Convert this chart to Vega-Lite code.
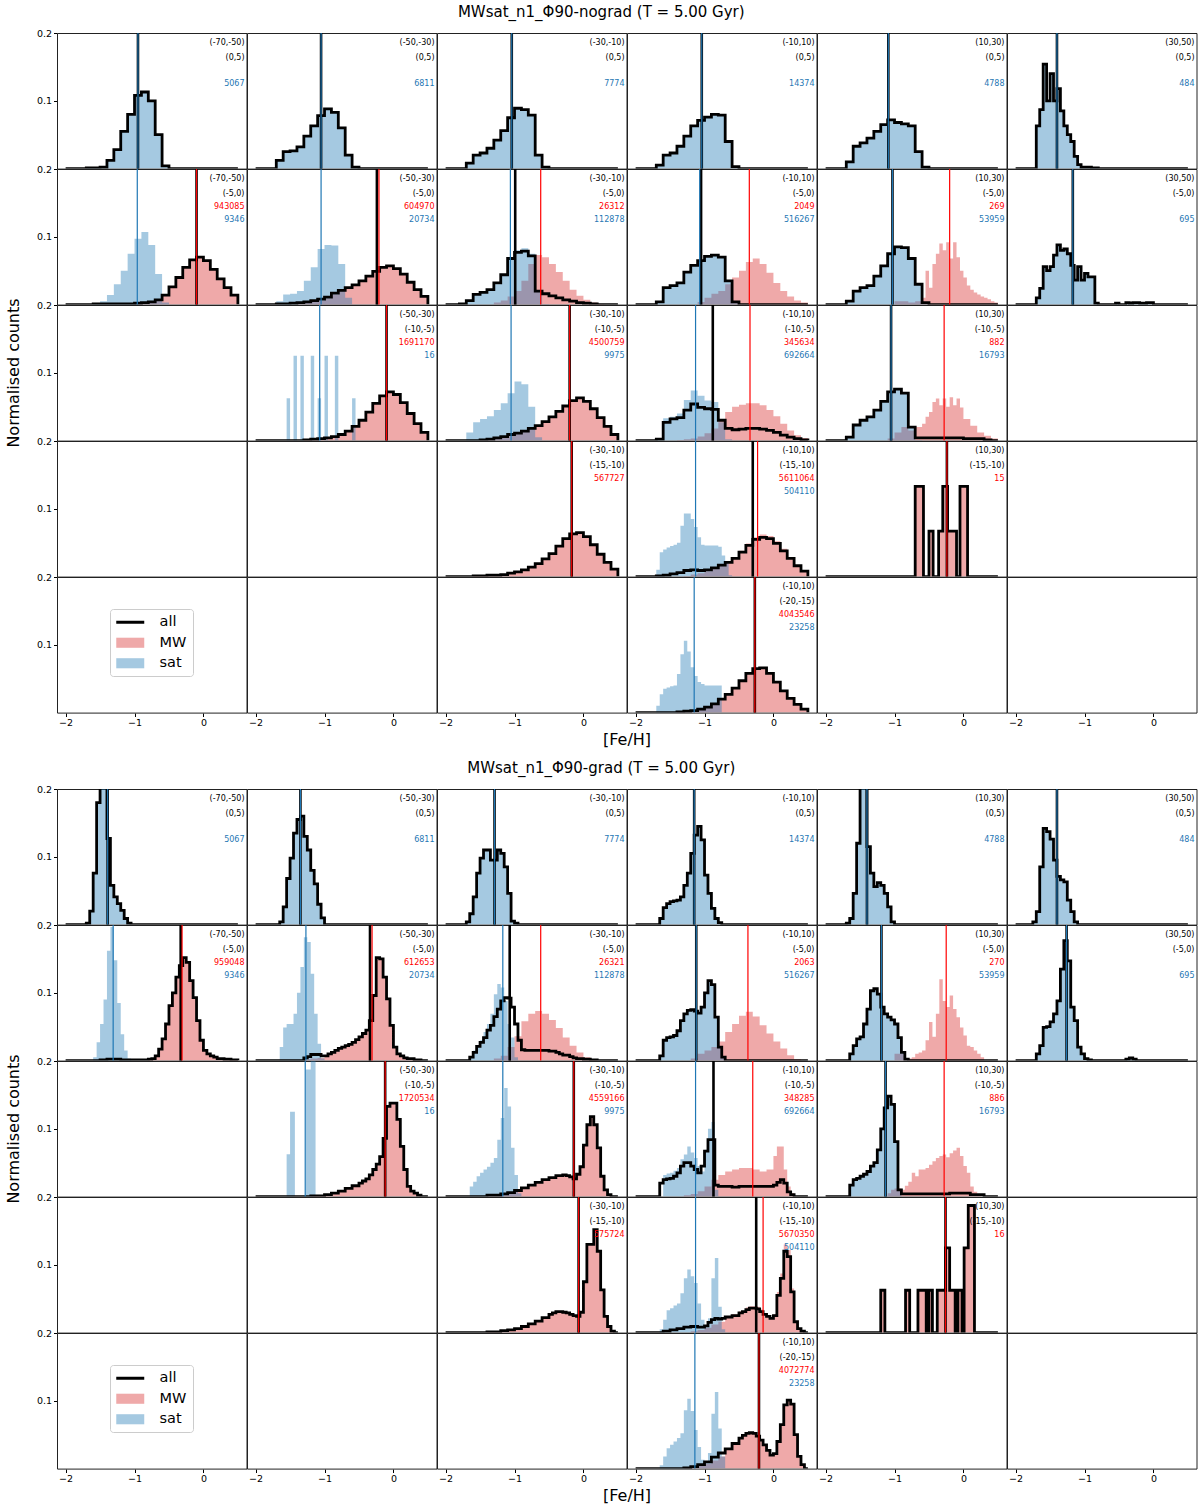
{
"$schema":"https://vega.github.io/schema/vega-lite/v6.json",
"background":"white",
"padding":{"left":5,"right":5,"top":5,"bottom":2},
"config":{"font":"DejaVu Sans","view":{"stroke":"#222222","strokeWidth":1},
"axis":{"grid":false,"domain":false,"tickColor":"#000000","labelColor":"#000000","labelFont":"DejaVu Sans","tickSize":3.5,"labelFontSize":9.5,"labelPadding":2,"minExtent":0},
"axisX":{"labelPadding":1}},
"datasets":{
"d1":[
{"r":1,"c":1,"x":-2,"a":0},{"r":1,"c":1,"x":-1.7,"a":0.001,"s":0.001},{"r":1,"c":1,"x":-1.6,"a":0.001,"s":0.001},{"r":1,"c":1,"x":-1.5,"a":0.002,"s":0.002},{"r":1,"c":1,"x":-1.4,"a":0.012,"s":0.012},{"r":1,"c":1,"x":-1.3,"a":0.028,"s":0.028},{"r":1,"c":1,"x":-1.2,"a":0.055,"s":0.055},{"r":1,"c":1,"x":-1.1,"a":0.08,"s":0.08},{"r":1,"c":1,"x":-1,"a":0.108,"s":0.108},{"r":1,"c":1,"x":-0.9,"a":0.113,"s":0.113},{"r":1,"c":1,"x":-0.8,"a":0.1,"s":0.1},{"r":1,"c":1,"x":-0.7,"a":0.05,"s":0.05},{"r":1,"c":1,"x":-0.6,"a":0.004,"s":0.004},{"r":1,"c":1,"x":-0.5,"a":0,"s":0},{"r":1,"c":1,"x":0.5,"a":0},
{"r":1,"c":1,"t1":"(-70,-50)","t2":"(0,5)","ns":"5067","ma":-0.95,"ms":-0.95},
{"r":1,"c":2,"x":-2,"a":0},{"r":1,"c":2,"x":-1.7,"a":0.012,"s":0.012},{"r":1,"c":2,"x":-1.6,"a":0.025,"s":0.025},{"r":1,"c":2,"x":-1.5,"a":0.026,"s":0.026},{"r":1,"c":2,"x":-1.4,"a":0.032,"s":0.032},{"r":1,"c":2,"x":-1.3,"a":0.048,"s":0.048},{"r":1,"c":2,"x":-1.2,"a":0.063,"s":0.063},{"r":1,"c":2,"x":-1.1,"a":0.078,"s":0.078},{"r":1,"c":2,"x":-1,"a":0.088,"s":0.088},{"r":1,"c":2,"x":-0.9,"a":0.083,"s":0.083},{"r":1,"c":2,"x":-0.8,"a":0.06,"s":0.06},{"r":1,"c":2,"x":-0.7,"a":0.02,"s":0.02},{"r":1,"c":2,"x":-0.6,"a":0.002,"s":0.002},{"r":1,"c":2,"x":-0.5,"a":0,"s":0},{"r":1,"c":2,"x":0.5,"a":0},
{"r":1,"c":2,"t1":"(-50,-30)","t2":"(0,5)","ns":"6811","ma":-1.05,"ms":-1.05},
{"r":1,"c":3,"x":-2,"a":0},{"r":1,"c":3,"x":-1.7,"a":0.008,"s":0.008},{"r":1,"c":3,"x":-1.6,"a":0.02,"s":0.02},{"r":1,"c":3,"x":-1.5,"a":0.023,"s":0.023},{"r":1,"c":3,"x":-1.4,"a":0.03,"s":0.03},{"r":1,"c":3,"x":-1.3,"a":0.042,"s":0.042},{"r":1,"c":3,"x":-1.2,"a":0.056,"s":0.056},{"r":1,"c":3,"x":-1.1,"a":0.075,"s":0.075},{"r":1,"c":3,"x":-1,"a":0.089,"s":0.089},{"r":1,"c":3,"x":-0.9,"a":0.087,"s":0.087},{"r":1,"c":3,"x":-0.8,"a":0.079,"s":0.079},{"r":1,"c":3,"x":-0.7,"a":0.02,"s":0.02},{"r":1,"c":3,"x":-0.6,"a":0.002,"s":0.002},{"r":1,"c":3,"x":-0.5,"a":0,"s":0},{"r":1,"c":3,"x":0.5,"a":0},
{"r":1,"c":3,"t1":"(-30,-10)","t2":"(0,5)","ns":"7774","ma":-1.04,"ms":-1.04},
{"r":1,"c":4,"x":-2,"a":0},{"r":1,"c":4,"x":-1.7,"a":0.005,"s":0.005},{"r":1,"c":4,"x":-1.6,"a":0.02,"s":0.02},{"r":1,"c":4,"x":-1.5,"a":0.023,"s":0.023},{"r":1,"c":4,"x":-1.4,"a":0.033,"s":0.033},{"r":1,"c":4,"x":-1.3,"a":0.048,"s":0.048},{"r":1,"c":4,"x":-1.2,"a":0.063,"s":0.063},{"r":1,"c":4,"x":-1.1,"a":0.071,"s":0.071},{"r":1,"c":4,"x":-1,"a":0.076,"s":0.076},{"r":1,"c":4,"x":-0.9,"a":0.08,"s":0.08},{"r":1,"c":4,"x":-0.8,"a":0.079,"s":0.079},{"r":1,"c":4,"x":-0.7,"a":0.04,"s":0.04},{"r":1,"c":4,"x":-0.6,"a":0.003,"s":0.003},{"r":1,"c":4,"x":-0.5,"a":0,"s":0},{"r":1,"c":4,"x":0.5,"a":0},
{"r":1,"c":4,"t1":"(-10,10)","t2":"(0,5)","ns":"14374","ma":-1.04,"ms":-1.04},
{"r":1,"c":5,"x":-2,"a":0},{"r":1,"c":5,"x":-1.7,"a":0.01,"s":0.01},{"r":1,"c":5,"x":-1.6,"a":0.033,"s":0.033},{"r":1,"c":5,"x":-1.5,"a":0.038,"s":0.038},{"r":1,"c":5,"x":-1.4,"a":0.045,"s":0.045},{"r":1,"c":5,"x":-1.3,"a":0.055,"s":0.055},{"r":1,"c":5,"x":-1.2,"a":0.065,"s":0.065},{"r":1,"c":5,"x":-1.1,"a":0.072,"s":0.072},{"r":1,"c":5,"x":-1,"a":0.068,"s":0.068},{"r":1,"c":5,"x":-0.9,"a":0.066,"s":0.066},{"r":1,"c":5,"x":-0.8,"a":0.063,"s":0.063},{"r":1,"c":5,"x":-0.7,"a":0.025,"s":0.025},{"r":1,"c":5,"x":-0.6,"a":0.002,"s":0.002},{"r":1,"c":5,"x":-0.5,"a":0,"s":0},{"r":1,"c":5,"x":0.5,"a":0},
{"r":1,"c":5,"t1":"(10,30)","t2":"(0,5)","ns":"4788","ma":-1.09,"ms":-1.09},
{"r":1,"c":6,"x":-2,"a":0},{"r":1,"c":6,"x":-1.7,"a":0.063,"s":0.063},{"r":1,"c":6,"x":-1.65,"a":0.087,"s":0.087},{"r":1,"c":6,"x":-1.6,"a":0.154,"s":0.154},{"r":1,"c":6,"x":-1.55,"a":0.1,"s":0.1},{"r":1,"c":6,"x":-1.5,"a":0.14,"s":0.14},{"r":1,"c":6,"x":-1.45,"a":0.1,"s":0.1},{"r":1,"c":6,"x":-1.4,"a":0.118,"s":0.118},{"r":1,"c":6,"x":-1.35,"a":0.085,"s":0.085},{"r":1,"c":6,"x":-1.3,"a":0.063,"s":0.063},{"r":1,"c":6,"x":-1.25,"a":0.05,"s":0.05},{"r":1,"c":6,"x":-1.2,"a":0.04,"s":0.04},{"r":1,"c":6,"x":-1.15,"a":0.018,"s":0.018},{"r":1,"c":6,"x":-1.1,"a":0.006,"s":0.006},{"r":1,"c":6,"x":-1.05,"a":0.002,"s":0.002},{"r":1,"c":6,"x":-0.9,"a":0.001,"s":0.001},{"r":1,"c":6,"x":-0.8,"a":0,"s":0},{"r":1,"c":6,"x":0.5,"a":0},
{"r":1,"c":6,"t1":"(30,50)","t2":"(0,5)","ns":"484","ma":-1.4,"ms":-1.4},
{"r":2,"c":1,"x":-2,"a":0},{"r":2,"c":1,"x":-1.6,"a":0.001,"s":0.002},{"r":2,"c":1,"x":-1.5,"s":0.005},{"r":2,"c":1,"x":-1.4,"s":0.014},{"r":2,"c":1,"x":-1.3,"s":0.03},{"r":2,"c":1,"x":-1.2,"s":0.05},{"r":2,"c":1,"x":-1.1,"s":0.075},{"r":2,"c":1,"x":-1,"a":0.002,"m":0.002,"s":0.097},{"r":2,"c":1,"x":-0.9,"a":0.003,"m":0.003,"s":0.107},{"r":2,"c":1,"x":-0.8,"a":0.004,"m":0.004,"s":0.088},{"r":2,"c":1,"x":-0.7,"a":0.007,"m":0.007,"s":0.045},{"r":2,"c":1,"x":-0.6,"a":0.014,"m":0.014,"s":0.003},{"r":2,"c":1,"x":-0.5,"a":0.026,"m":0.026,"s":0},{"r":2,"c":1,"x":-0.4,"a":0.04,"m":0.04},{"r":2,"c":1,"x":-0.3,"a":0.055,"m":0.055},{"r":2,"c":1,"x":-0.2,"a":0.066,"m":0.066},{"r":2,"c":1,"x":-0.1,"a":0.07,"m":0.07},{"r":2,"c":1,"x":0,"a":0.065,"m":0.065},{"r":2,"c":1,"x":0.1,"a":0.052,"m":0.052},{"r":2,"c":1,"x":0.2,"a":0.038,"m":0.038},{"r":2,"c":1,"x":0.3,"a":0.025,"m":0.025},{"r":2,"c":1,"x":0.4,"a":0.014,"m":0.014},{"r":2,"c":1,"x":0.5,"a":0,"m":0},
{"r":2,"c":1,"t1":"(-70,-50)","t2":"(-5,0)","nm":"943085","ns":"9346","ma":-0.1,"mm":-0.1,"ms":-0.96},
{"r":2,"c":2,"x":-2,"a":0},{"r":2,"c":2,"x":-1.7,"a":0.001,"s":0.005},{"r":2,"c":2,"x":-1.6,"a":0.001,"s":0.015},{"r":2,"c":2,"x":-1.5,"a":0.002,"s":0.016},{"r":2,"c":2,"x":-1.4,"a":0.003,"m":0.002,"s":0.02},{"r":2,"c":2,"x":-1.3,"a":0.004,"m":0.003,"s":0.035},{"r":2,"c":2,"x":-1.2,"a":0.006,"m":0.004,"s":0.055},{"r":2,"c":2,"x":-1.1,"a":0.008,"m":0.006,"s":0.082},{"r":2,"c":2,"x":-1,"a":0.011,"m":0.009,"s":0.088},{"r":2,"c":2,"x":-0.9,"a":0.017,"m":0.015,"s":0.087},{"r":2,"c":2,"x":-0.8,"a":0.021,"m":0.02,"s":0.06},{"r":2,"c":2,"x":-0.7,"a":0.025,"m":0.025,"s":0.01},{"r":2,"c":2,"x":-0.6,"a":0.029,"m":0.029,"s":0},{"r":2,"c":2,"x":-0.5,"a":0.035,"m":0.035},{"r":2,"c":2,"x":-0.4,"a":0.042,"m":0.042},{"r":2,"c":2,"x":-0.3,"a":0.049,"m":0.049},{"r":2,"c":2,"x":-0.2,"a":0.055,"m":0.055},{"r":2,"c":2,"x":-0.1,"a":0.057,"m":0.057},{"r":2,"c":2,"x":0,"a":0.053,"m":0.053},{"r":2,"c":2,"x":0.1,"a":0.045,"m":0.045},{"r":2,"c":2,"x":0.2,"a":0.033,"m":0.033},{"r":2,"c":2,"x":0.3,"a":0.022,"m":0.022},{"r":2,"c":2,"x":0.4,"a":0.012,"m":0.012},{"r":2,"c":2,"x":0.5,"a":0,"m":0},
{"r":2,"c":2,"t1":"(-50,-30)","t2":"(-5,0)","nm":"604970","ns":"20734","ma":-0.24,"mm":-0.21,"ms":-1.05},
{"r":2,"c":3,"x":-2,"a":0},{"r":2,"c":3,"x":-1.8,"a":0.001},{"r":2,"c":3,"x":-1.7,"a":0.006,"s":0.007},{"r":2,"c":3,"x":-1.6,"a":0.015,"s":0.016},{"r":2,"c":3,"x":-1.5,"a":0.018,"s":0.019},{"r":2,"c":3,"x":-1.4,"a":0.022,"s":0.02},{"r":2,"c":3,"x":-1.3,"a":0.032,"m":0.003,"s":0.03},{"r":2,"c":3,"x":-1.2,"a":0.044,"m":0.006,"s":0.043},{"r":2,"c":3,"x":-1.1,"a":0.068,"m":0.012,"s":0.068},{"r":2,"c":3,"x":-1,"a":0.077,"m":0.02,"s":0.08},{"r":2,"c":3,"x":-0.9,"a":0.079,"m":0.035,"s":0.083},{"r":2,"c":3,"x":-0.8,"a":0.072,"m":0.06,"s":0.075},{"r":2,"c":3,"x":-0.7,"a":0.02,"m":0.073,"s":0.02},{"r":2,"c":3,"x":-0.6,"a":0.016,"m":0.07,"s":0.001},{"r":2,"c":3,"x":-0.5,"a":0.013,"m":0.06,"s":0},{"r":2,"c":3,"x":-0.4,"a":0.01,"m":0.048},{"r":2,"c":3,"x":-0.3,"a":0.007,"m":0.035},{"r":2,"c":3,"x":-0.2,"a":0.005,"m":0.022},{"r":2,"c":3,"x":-0.1,"a":0.003,"m":0.013},{"r":2,"c":3,"x":0,"a":0.002,"m":0.007},{"r":2,"c":3,"x":0.1,"a":0.001,"m":0.003},{"r":2,"c":3,"x":0.2,"a":0,"m":0.001},{"r":2,"c":3,"x":0.3,"m":0},{"r":2,"c":3,"x":0.5,"a":0},
{"r":2,"c":3,"t1":"(-30,-10)","t2":"(-5,0)","nm":"26312","ns":"112878","ma":-0.99,"mm":-0.62,"ms":-1.06},
{"r":2,"c":4,"x":-2,"a":0},{"r":2,"c":4,"x":-1.7,"a":0.004,"s":0.004},{"r":2,"c":4,"x":-1.6,"a":0.025,"s":0.025},{"r":2,"c":4,"x":-1.5,"a":0.028,"s":0.028},{"r":2,"c":4,"x":-1.4,"a":0.032,"s":0.032},{"r":2,"c":4,"x":-1.3,"a":0.048,"s":0.048},{"r":2,"c":4,"x":-1.2,"a":0.058,"s":0.058},{"r":2,"c":4,"x":-1.1,"a":0.065,"s":0.065,"m":0.004},{"r":2,"c":4,"x":-1,"a":0.071,"s":0.071,"m":0.01},{"r":2,"c":4,"x":-0.9,"a":0.073,"s":0.073,"m":0.016},{"r":2,"c":4,"x":-0.8,"a":0.07,"s":0.07,"m":0.02},{"r":2,"c":4,"x":-0.7,"a":0.035,"s":0.035,"m":0.03},{"r":2,"c":4,"x":-0.6,"a":0.004,"s":0.004,"m":0.04},{"r":2,"c":4,"x":-0.5,"a":0,"s":0,"m":0.05},{"r":2,"c":4,"x":-0.4,"m":0.063},{"r":2,"c":4,"x":-0.3,"m":0.068},{"r":2,"c":4,"x":-0.2,"m":0.06},{"r":2,"c":4,"x":-0.1,"m":0.047},{"r":2,"c":4,"x":0,"m":0.032},{"r":2,"c":4,"x":0.1,"m":0.02},{"r":2,"c":4,"x":0.2,"m":0.012},{"r":2,"c":4,"x":0.3,"m":0.006},{"r":2,"c":4,"x":0.4,"m":0.003},{"r":2,"c":4,"x":0.5,"a":0,"m":0},
{"r":2,"c":4,"t1":"(-10,10)","t2":"(-5,0)","nm":"2049","ns":"516267","ma":-1.05,"mm":-0.35,"ms":-1.07},
{"r":2,"c":5,"x":-2,"a":0},{"r":2,"c":5,"x":-1.7,"a":0.005,"s":0.005},{"r":2,"c":5,"x":-1.6,"a":0.02,"s":0.02},{"r":2,"c":5,"x":-1.5,"a":0.025,"s":0.025},{"r":2,"c":5,"x":-1.4,"a":0.028,"s":0.028},{"r":2,"c":5,"x":-1.3,"a":0.042,"s":0.042},{"r":2,"c":5,"x":-1.2,"a":0.057,"s":0.057},{"r":2,"c":5,"x":-1.1,"a":0.075,"s":0.075},{"r":2,"c":5,"x":-1,"a":0.085,"s":0.085,"m":0.005},{"r":2,"c":5,"x":-0.9,"a":0.084,"s":0.084},{"r":2,"c":5,"x":-0.8,"a":0.068,"s":0.068,"m":0.003},{"r":2,"c":5,"x":-0.7,"a":0.03,"s":0.03,"m":0.005},{"r":2,"c":5,"x":-0.6,"a":0.003,"s":0.003,"m":0.01},{"r":2,"c":5,"x":-0.55,"m":0.05},{"r":2,"c":5,"x":-0.5,"a":0,"s":0,"m":0.025},{"r":2,"c":5,"x":-0.45,"m":0.06},{"r":2,"c":5,"x":-0.4,"m":0.075},{"r":2,"c":5,"x":-0.35,"m":0.09},{"r":2,"c":5,"x":-0.3,"m":0.08},{"r":2,"c":5,"x":-0.25,"m":0.092},{"r":2,"c":5,"x":-0.2,"m":0.068},{"r":2,"c":5,"x":-0.15,"m":0.092},{"r":2,"c":5,"x":-0.1,"m":0.07},{"r":2,"c":5,"x":-0.05,"m":0.05},{"r":2,"c":5,"x":0,"m":0.04},{"r":2,"c":5,"x":0.05,"m":0.028},{"r":2,"c":5,"x":0.1,"m":0.022},{"r":2,"c":5,"x":0.15,"m":0.018},{"r":2,"c":5,"x":0.2,"m":0.015},{"r":2,"c":5,"x":0.25,"m":0.012},{"r":2,"c":5,"x":0.3,"m":0.01},{"r":2,"c":5,"x":0.35,"m":0.008},{"r":2,"c":5,"x":0.4,"m":0.005},{"r":2,"c":5,"x":0.45,"m":0.003},{"r":2,"c":5,"x":0.5,"a":0,"m":0},
{"r":2,"c":5,"t1":"(10,30)","t2":"(-5,0)","nm":"269","ns":"53959","ma":-1.03,"mm":-0.2,"ms":-1.03},
{"r":2,"c":6,"x":-2,"a":0},{"r":2,"c":6,"x":-1.7,"a":0.01,"s":0.01},{"r":2,"c":6,"x":-1.65,"a":0.024,"s":0.024},{"r":2,"c":6,"x":-1.6,"a":0.056,"s":0.056},{"r":2,"c":6,"x":-1.55,"a":0.05,"s":0.05},{"r":2,"c":6,"x":-1.5,"a":0.056,"s":0.056},{"r":2,"c":6,"x":-1.45,"a":0.073,"s":0.073},{"r":2,"c":6,"x":-1.4,"a":0.088,"s":0.088},{"r":2,"c":6,"x":-1.35,"a":0.08,"s":0.08},{"r":2,"c":6,"x":-1.3,"a":0.082,"s":0.082},{"r":2,"c":6,"x":-1.25,"a":0.075,"s":0.075},{"r":2,"c":6,"x":-1.2,"a":0.058,"s":0.058},{"r":2,"c":6,"x":-1.15,"a":0.036,"s":0.036},{"r":2,"c":6,"x":-1.1,"a":0.056,"s":0.056},{"r":2,"c":6,"x":-1.05,"a":0.036,"s":0.036},{"r":2,"c":6,"x":-1,"a":0.046,"s":0.046},{"r":2,"c":6,"x":-0.95,"a":0.041,"s":0.041},{"r":2,"c":6,"x":-0.9,"a":0.041,"s":0.041},{"r":2,"c":6,"x":-0.85,"a":0.002,"s":0.002},{"r":2,"c":6,"x":-0.8,"a":0,"s":0},{"r":2,"c":6,"x":-0.55,"a":0.002,"s":0.002},{"r":2,"c":6,"x":-0.5,"a":0,"s":0},{"r":2,"c":6,"x":-0.4,"a":0.003,"s":0.003},{"r":2,"c":6,"x":-0.35,"a":0.002,"s":0.002},{"r":2,"c":6,"x":-0.3,"a":0.003,"s":0.003},{"r":2,"c":6,"x":-0.2,"a":0.002,"s":0.002},{"r":2,"c":6,"x":-0.1,"a":0.003,"s":0.003},{"r":2,"c":6,"x":0,"a":0,"s":0},{"r":2,"c":6,"x":0.5,"a":0},
{"r":2,"c":6,"t1":"(30,50)","t2":"(-5,0)","ns":"695","ma":-1.17,"ms":-1.17},
{"r":3,"c":2,"x":-2,"a":0},{"r":3,"c":2,"x":-1.55,"s":0.0625},{"r":3,"c":2,"x":-1.5,"s":0},{"r":3,"c":2,"x":-1.45,"s":0.125},{"r":3,"c":2,"x":-1.4,"s":0},{"r":3,"c":2,"x":-1.35,"s":0.125},{"r":3,"c":2,"x":-1.3,"a":0.001,"m":0.001,"s":0},{"r":3,"c":2,"x":-1.2,"a":0.002,"m":0.002,"s":0.125},{"r":3,"c":2,"x":-1.15,"s":0},{"r":3,"c":2,"x":-1.1,"a":0.003,"m":0.003,"s":0.0625},{"r":3,"c":2,"x":-1.05,"s":0},{"r":3,"c":2,"x":-1,"a":0.004,"m":0.004,"s":0.125},{"r":3,"c":2,"x":-0.95,"s":0},{"r":3,"c":2,"x":-0.9,"a":0.006,"m":0.006},{"r":3,"c":2,"x":-0.85,"s":0.125},{"r":3,"c":2,"x":-0.8,"a":0.009,"m":0.009,"s":0},{"r":3,"c":2,"x":-0.7,"a":0.014,"m":0.014},{"r":3,"c":2,"x":-0.6,"a":0.021,"m":0.021,"s":0.0625},{"r":3,"c":2,"x":-0.55,"s":0},{"r":3,"c":2,"x":-0.5,"a":0.03,"m":0.03},{"r":3,"c":2,"x":-0.4,"a":0.042,"m":0.042},{"r":3,"c":2,"x":-0.3,"a":0.055,"m":0.055},{"r":3,"c":2,"x":-0.2,"a":0.066,"m":0.066},{"r":3,"c":2,"x":-0.1,"a":0.072,"m":0.072},{"r":3,"c":2,"x":0,"a":0.068,"m":0.068},{"r":3,"c":2,"x":0.1,"a":0.056,"m":0.056},{"r":3,"c":2,"x":0.2,"a":0.04,"m":0.04},{"r":3,"c":2,"x":0.3,"a":0.025,"m":0.025},{"r":3,"c":2,"x":0.4,"a":0.012,"m":0.012},{"r":3,"c":2,"x":0.5,"a":0,"m":0},
{"r":3,"c":2,"t1":"(-50,-30)","t2":"(-10,-5)","nm":"1691170","ns":"16","ma":-0.1,"mm":-0.1,"ms":-1.07},
{"r":3,"c":3,"x":-2,"a":0},{"r":3,"c":3,"x":-1.7,"s":0.012},{"r":3,"c":3,"x":-1.6,"s":0.027},{"r":3,"c":3,"x":-1.5,"a":0.001,"m":0.001,"s":0.032},{"r":3,"c":3,"x":-1.4,"a":0.002,"m":0.002,"s":0.036},{"r":3,"c":3,"x":-1.3,"a":0.004,"m":0.004,"s":0.045},{"r":3,"c":3,"x":-1.2,"a":0.006,"m":0.006,"s":0.055},{"r":3,"c":3,"x":-1.1,"a":0.009,"m":0.009,"s":0.07},{"r":3,"c":3,"x":-1,"a":0.011,"m":0.011,"s":0.087},{"r":3,"c":3,"x":-0.9,"a":0.014,"m":0.014,"s":0.083},{"r":3,"c":3,"x":-0.8,"a":0.018,"m":0.018,"s":0.05},{"r":3,"c":3,"x":-0.7,"a":0.022,"m":0.022,"s":0.005},{"r":3,"c":3,"x":-0.6,"a":0.028,"m":0.028,"s":0},{"r":3,"c":3,"x":-0.5,"a":0.035,"m":0.035},{"r":3,"c":3,"x":-0.4,"a":0.043,"m":0.043},{"r":3,"c":3,"x":-0.3,"a":0.051,"m":0.051},{"r":3,"c":3,"x":-0.2,"a":0.059,"m":0.059},{"r":3,"c":3,"x":-0.1,"a":0.063,"m":0.063},{"r":3,"c":3,"x":0,"a":0.058,"m":0.058},{"r":3,"c":3,"x":0.1,"a":0.047,"m":0.047},{"r":3,"c":3,"x":0.2,"a":0.034,"m":0.034},{"r":3,"c":3,"x":0.3,"a":0.021,"m":0.021},{"r":3,"c":3,"x":0.4,"a":0.009,"m":0.009},{"r":3,"c":3,"x":0.5,"a":0,"m":0},
{"r":3,"c":3,"t1":"(-30,-10)","t2":"(-10,-5)","nm":"4500759","ns":"9975","ma":-0.2,"mm":-0.2,"ms":-1.05},
{"r":3,"c":4,"x":-2,"a":0},{"r":3,"c":4,"x":-1.7,"a":0.002,"s":0.003},{"r":3,"c":4,"x":-1.6,"a":0.027,"s":0.033},{"r":3,"c":4,"x":-1.5,"a":0.032,"s":0.035},{"r":3,"c":4,"x":-1.4,"a":0.034,"s":0.04,"m":0.001},{"r":3,"c":4,"x":-1.3,"a":0.045,"s":0.06,"m":0.002},{"r":3,"c":4,"x":-1.2,"a":0.054,"s":0.074,"m":0.003},{"r":3,"c":4,"x":-1.1,"a":0.049,"s":0.066,"m":0.006},{"r":3,"c":4,"x":-1,"a":0.047,"s":0.059,"m":0.011},{"r":3,"c":4,"x":-0.9,"a":0.046,"s":0.057,"m":0.018},{"r":3,"c":4,"x":-0.8,"a":0.03,"s":0.027,"m":0.03},{"r":3,"c":4,"x":-0.7,"a":0.018,"s":0.002,"m":0.042},{"r":3,"c":4,"x":-0.6,"a":0.016,"s":0,"m":0.05},{"r":3,"c":4,"x":-0.5,"a":0.017,"m":0.053},{"r":3,"c":4,"x":-0.4,"a":0.018,"m":0.055},{"r":3,"c":4,"x":-0.3,"a":0.018,"m":0.055},{"r":3,"c":4,"x":-0.2,"a":0.017,"m":0.052},{"r":3,"c":4,"x":-0.1,"a":0.015,"m":0.045},{"r":3,"c":4,"x":0,"a":0.012,"m":0.036},{"r":3,"c":4,"x":0.1,"a":0.008,"m":0.025},{"r":3,"c":4,"x":0.2,"a":0.005,"m":0.015},{"r":3,"c":4,"x":0.3,"a":0.003,"m":0.008},{"r":3,"c":4,"x":0.4,"a":0.001,"m":0.004},{"r":3,"c":4,"x":0.5,"a":0,"m":0},
{"r":3,"c":4,"t1":"(-10,10)","t2":"(-10,-5)","nm":"345634","ns":"692664","ma":-0.88,"mm":-0.34,"ms":-1.13},
{"r":3,"c":5,"x":-2,"a":0},{"r":3,"c":5,"x":-1.7,"a":0.005,"s":0.005},{"r":3,"c":5,"x":-1.6,"a":0.023,"s":0.023},{"r":3,"c":5,"x":-1.5,"a":0.03,"s":0.03},{"r":3,"c":5,"x":-1.4,"a":0.035,"s":0.035},{"r":3,"c":5,"x":-1.3,"a":0.045,"s":0.045},{"r":3,"c":5,"x":-1.2,"a":0.058,"s":0.058},{"r":3,"c":5,"x":-1.1,"a":0.072,"s":0.072,"m":0.003},{"r":3,"c":5,"x":-1,"a":0.076,"s":0.076,"m":0.012},{"r":3,"c":5,"x":-0.9,"a":0.07,"s":0.07,"m":0.02},{"r":3,"c":5,"x":-0.8,"a":0.02,"s":0.02,"m":0.015},{"r":3,"c":5,"x":-0.7,"a":0.004,"s":0.001,"m":0.02},{"r":3,"c":5,"x":-0.6,"s":0,"m":0.025},{"r":3,"c":5,"x":-0.55,"m":0.035},{"r":3,"c":5,"x":-0.5,"m":0.042},{"r":3,"c":5,"x":-0.45,"m":0.057},{"r":3,"c":5,"x":-0.4,"m":0.062},{"r":3,"c":5,"x":-0.35,"m":0.052},{"r":3,"c":5,"x":-0.3,"m":0.062},{"r":3,"c":5,"x":-0.25,"m":0.05},{"r":3,"c":5,"x":-0.2,"m":0.064},{"r":3,"c":5,"x":-0.15,"m":0.052},{"r":3,"c":5,"x":-0.1,"m":0.062},{"r":3,"c":5,"x":-0.05,"m":0.049},{"r":3,"c":5,"x":0,"a":0.003,"m":0.032},{"r":3,"c":5,"x":0.1,"m":0.022},{"r":3,"c":5,"x":0.2,"m":0.012},{"r":3,"c":5,"x":0.3,"a":0.001,"m":0.007},{"r":3,"c":5,"x":0.4,"a":0,"m":0.003},{"r":3,"c":5,"x":0.5,"a":0,"m":0},
{"r":3,"c":5,"t1":"(10,30)","t2":"(-10,-5)","nm":"882","ns":"16793","ma":-1.05,"mm":-0.28,"ms":-1.05},
{"r":4,"c":3,"x":-2,"a":0},{"r":4,"c":3,"x":-1.6,"a":0.001,"m":0.001},{"r":4,"c":3,"x":-1.4,"a":0.002,"m":0.002},{"r":4,"c":3,"x":-1.2,"a":0.003,"m":0.003},{"r":4,"c":3,"x":-1.1,"a":0.005,"m":0.005},{"r":4,"c":3,"x":-1,"a":0.007,"m":0.007},{"r":4,"c":3,"x":-0.9,"a":0.01,"m":0.01},{"r":4,"c":3,"x":-0.8,"a":0.014,"m":0.014},{"r":4,"c":3,"x":-0.7,"a":0.019,"m":0.019},{"r":4,"c":3,"x":-0.6,"a":0.026,"m":0.026},{"r":4,"c":3,"x":-0.5,"a":0.034,"m":0.034},{"r":4,"c":3,"x":-0.4,"a":0.045,"m":0.045},{"r":4,"c":3,"x":-0.3,"a":0.056,"m":0.056},{"r":4,"c":3,"x":-0.2,"a":0.063,"m":0.063},{"r":4,"c":3,"x":-0.1,"a":0.065,"m":0.065},{"r":4,"c":3,"x":0,"a":0.059,"m":0.059},{"r":4,"c":3,"x":0.1,"a":0.047,"m":0.047},{"r":4,"c":3,"x":0.2,"a":0.033,"m":0.033},{"r":4,"c":3,"x":0.3,"a":0.021,"m":0.021},{"r":4,"c":3,"x":0.4,"a":0.011,"m":0.011},{"r":4,"c":3,"x":0.5,"a":0,"m":0},
{"r":4,"c":3,"t1":"(-30,-10)","t2":"(-15,-10)","nm":"567727","ma":-0.17,"mm":-0.17},
{"r":4,"c":4,"x":-2,"a":0},{"r":4,"c":4,"x":-1.7,"a":0.001,"s":0.01},{"r":4,"c":4,"x":-1.65,"s":0.036},{"r":4,"c":4,"x":-1.6,"a":0.002,"s":0.04},{"r":4,"c":4,"x":-1.55,"s":0.043},{"r":4,"c":4,"x":-1.5,"a":0.004,"s":0.045},{"r":4,"c":4,"x":-1.45,"s":0.047},{"r":4,"c":4,"x":-1.4,"a":0.006,"s":0.05},{"r":4,"c":4,"x":-1.35,"s":0.075},{"r":4,"c":4,"x":-1.3,"a":0.009,"s":0.093,"m":0.001},{"r":4,"c":4,"x":-1.25,"s":0.093},{"r":4,"c":4,"x":-1.2,"a":0.01,"s":0.085,"m":0.003},{"r":4,"c":4,"x":-1.15,"s":0.073},{"r":4,"c":4,"x":-1.1,"a":0.009,"s":0.058,"m":0.005},{"r":4,"c":4,"x":-1.05,"s":0.047},{"r":4,"c":4,"x":-1,"a":0.01,"s":0.046,"m":0.008},{"r":4,"c":4,"x":-0.9,"a":0.013,"s":0.046,"m":0.012},{"r":4,"c":4,"x":-0.8,"a":0.017,"s":0.044,"m":0.016},{"r":4,"c":4,"x":-0.75,"s":0.031},{"r":4,"c":4,"x":-0.7,"a":0.021,"s":0.02,"m":0.021},{"r":4,"c":4,"x":-0.65,"s":0.002},{"r":4,"c":4,"x":-0.6,"a":0.027,"s":0,"m":0.028},{"r":4,"c":4,"x":-0.5,"a":0.036,"m":0.038},{"r":4,"c":4,"x":-0.4,"a":0.046,"m":0.049},{"r":4,"c":4,"x":-0.3,"a":0.055,"m":0.058},{"r":4,"c":4,"x":-0.2,"a":0.058,"m":0.062},{"r":4,"c":4,"x":-0.1,"a":0.056,"m":0.06},{"r":4,"c":4,"x":0,"a":0.049,"m":0.052},{"r":4,"c":4,"x":0.1,"a":0.038,"m":0.041},{"r":4,"c":4,"x":0.2,"a":0.027,"m":0.029},{"r":4,"c":4,"x":0.3,"a":0.016,"m":0.017},{"r":4,"c":4,"x":0.4,"a":0.008,"m":0.009},{"r":4,"c":4,"x":0.5,"a":0,"m":0},
{"r":4,"c":4,"t1":"(-10,10)","t2":"(-15,-10)","nm":"5611064","ns":"504110","ma":-0.3,"mm":-0.23,"ms":-1.13},
{"r":4,"c":5,"x":-2,"a":0},{"r":4,"c":5,"x":-0.7,"a":0.133,"m":0.133},{"r":4,"c":5,"x":-0.58,"a":0,"m":0},{"r":4,"c":5,"x":-0.5,"a":0.067,"m":0.067},{"r":4,"c":5,"x":-0.44,"a":0,"m":0},{"r":4,"c":5,"x":-0.36,"a":0.067,"m":0.067},{"r":4,"c":5,"x":-0.3,"a":0.133,"m":0.133},{"r":4,"c":5,"x":-0.23,"a":0.067,"m":0.067},{"r":4,"c":5,"x":-0.1,"a":0,"m":0},{"r":4,"c":5,"x":-0.05,"a":0.133,"m":0.133},{"r":4,"c":5,"x":0.06,"a":0,"m":0},{"r":4,"c":5,"x":0.5,"a":0},
{"r":4,"c":5,"t1":"(10,30)","t2":"(-15,-10)","nm":"15","ma":-0.24,"mm":-0.24},
{"r":5,"c":4,"x":-2,"a":0},{"r":5,"c":4,"x":-1.7,"s":0.01},{"r":5,"c":4,"x":-1.65,"s":0.027},{"r":5,"c":4,"x":-1.6,"s":0.035},{"r":5,"c":4,"x":-1.55,"s":0.037},{"r":5,"c":4,"x":-1.5,"s":0.039},{"r":5,"c":4,"x":-1.45,"s":0.04},{"r":5,"c":4,"x":-1.4,"a":0.001,"m":0.001,"s":0.057},{"r":5,"c":4,"x":-1.35,"s":0.086},{"r":5,"c":4,"x":-1.3,"a":0.002,"m":0.002,"s":0.106},{"r":5,"c":4,"x":-1.25,"s":0.09},{"r":5,"c":4,"x":-1.2,"a":0.003,"m":0.003,"s":0.067},{"r":5,"c":4,"x":-1.15,"s":0.054},{"r":5,"c":4,"x":-1.1,"a":0.005,"m":0.005,"s":0.045},{"r":5,"c":4,"x":-1.05,"s":0.042},{"r":5,"c":4,"x":-1,"a":0.008,"m":0.008,"s":0.04},{"r":5,"c":4,"x":-0.9,"a":0.013,"m":0.013,"s":0.04},{"r":5,"c":4,"x":-0.8,"a":0.02,"m":0.02,"s":0.04},{"r":5,"c":4,"x":-0.75,"s":0},{"r":5,"c":4,"x":-0.7,"a":0.027,"m":0.027},{"r":5,"c":4,"x":-0.6,"a":0.036,"m":0.036},{"r":5,"c":4,"x":-0.5,"a":0.047,"m":0.047},{"r":5,"c":4,"x":-0.4,"a":0.058,"m":0.058},{"r":5,"c":4,"x":-0.3,"a":0.065,"m":0.065},{"r":5,"c":4,"x":-0.2,"a":0.066,"m":0.066},{"r":5,"c":4,"x":-0.1,"a":0.058,"m":0.058},{"r":5,"c":4,"x":0,"a":0.045,"m":0.045},{"r":5,"c":4,"x":0.1,"a":0.032,"m":0.032},{"r":5,"c":4,"x":0.2,"a":0.021,"m":0.021},{"r":5,"c":4,"x":0.3,"a":0.012,"m":0.012},{"r":5,"c":4,"x":0.4,"a":0.005,"m":0.005},{"r":5,"c":4,"x":0.5,"a":0,"m":0},
{"r":5,"c":4,"t1":"(-10,10)","t2":"(-20,-15)","nm":"4043546","ns":"23258","ma":-0.27,"mm":-0.27,"ms":-1.15},
{"r":3,"c":1},{"r":3,"c":6},{"r":4,"c":1},{"r":4,"c":2},{"r":4,"c":6},{"r":5,"c":1},{"r":5,"c":2},{"r":5,"c":3},{"r":5,"c":5},{"r":5,"c":6}
],
"d2":[
{"r":1,"c":1,"x":-2,"a":0},{"r":1,"c":1,"x":-1.7,"a":0.002,"s":0.002},{"r":1,"c":1,"x":-1.65,"a":0.02,"s":0.02},{"r":1,"c":1,"x":-1.6,"a":0.076,"s":0.076},{"r":1,"c":1,"x":-1.55,"a":0.18,"s":0.18},{"r":1,"c":1,"x":-1.5,"a":0.25,"s":0.25},{"r":1,"c":1,"x":-1.45,"a":0.25,"s":0.25},{"r":1,"c":1,"x":-1.4,"a":0.127,"s":0.127},{"r":1,"c":1,"x":-1.35,"a":0.058,"s":0.058},{"r":1,"c":1,"x":-1.3,"a":0.041,"s":0.041},{"r":1,"c":1,"x":-1.25,"a":0.031,"s":0.031},{"r":1,"c":1,"x":-1.2,"a":0.021,"s":0.021},{"r":1,"c":1,"x":-1.15,"a":0.009,"s":0.009},{"r":1,"c":1,"x":-1.1,"a":0.002,"s":0.002},{"r":1,"c":1,"x":-1.05,"a":0,"s":0},{"r":1,"c":1,"x":0.5,"a":0},
{"r":1,"c":1,"t1":"(-70,-50)","t2":"(0,5)","ns":"5067","ma":-1.39,"ms":-1.39},
{"r":1,"c":2,"x":-2,"a":0},{"r":1,"c":2,"x":-1.65,"a":0.004,"s":0.004},{"r":1,"c":2,"x":-1.6,"a":0.026,"s":0.026},{"r":1,"c":2,"x":-1.55,"a":0.068,"s":0.068},{"r":1,"c":2,"x":-1.5,"a":0.098,"s":0.098},{"r":1,"c":2,"x":-1.45,"a":0.135,"s":0.135},{"r":1,"c":2,"x":-1.4,"a":0.155,"s":0.155},{"r":1,"c":2,"x":-1.35,"a":0.16,"s":0.16},{"r":1,"c":2,"x":-1.3,"a":0.13,"s":0.13},{"r":1,"c":2,"x":-1.25,"a":0.11,"s":0.11},{"r":1,"c":2,"x":-1.2,"a":0.08,"s":0.08},{"r":1,"c":2,"x":-1.15,"a":0.06,"s":0.06},{"r":1,"c":2,"x":-1.1,"a":0.03,"s":0.03},{"r":1,"c":2,"x":-1.05,"a":0.01,"s":0.01},{"r":1,"c":2,"x":-1,"a":0,"s":0},{"r":1,"c":2,"x":0.5,"a":0},
{"r":1,"c":2,"t1":"(-50,-30)","t2":"(0,5)","ns":"6811","ma":-1.35,"ms":-1.35},
{"r":1,"c":3,"x":-2,"a":0},{"r":1,"c":3,"x":-1.7,"a":0.004,"s":0.004},{"r":1,"c":3,"x":-1.65,"a":0.016,"s":0.016},{"r":1,"c":3,"x":-1.6,"a":0.041,"s":0.041},{"r":1,"c":3,"x":-1.55,"a":0.076,"s":0.076},{"r":1,"c":3,"x":-1.5,"a":0.098,"s":0.098},{"r":1,"c":3,"x":-1.45,"a":0.11,"s":0.11},{"r":1,"c":3,"x":-1.4,"a":0.11,"s":0.11},{"r":1,"c":3,"x":-1.35,"a":0.095,"s":0.095},{"r":1,"c":3,"x":-1.3,"a":0.095,"s":0.095},{"r":1,"c":3,"x":-1.25,"a":0.11,"s":0.11},{"r":1,"c":3,"x":-1.2,"a":0.105,"s":0.105},{"r":1,"c":3,"x":-1.15,"a":0.085,"s":0.085},{"r":1,"c":3,"x":-1.1,"a":0.046,"s":0.046},{"r":1,"c":3,"x":-1.05,"a":0.005,"s":0.005},{"r":1,"c":3,"x":-1,"a":0.002,"s":0.002},{"r":1,"c":3,"x":-0.95,"a":0,"s":0},{"r":1,"c":3,"x":0.5,"a":0},
{"r":1,"c":3,"t1":"(-30,-10)","t2":"(0,5)","ns":"7774","ma":-1.29,"ms":-1.29},
{"r":1,"c":4,"x":-2,"a":0},{"r":1,"c":4,"x":-1.65,"a":0.009,"s":0.009},{"r":1,"c":4,"x":-1.6,"a":0.025,"s":0.025},{"r":1,"c":4,"x":-1.55,"a":0.031,"s":0.031},{"r":1,"c":4,"x":-1.5,"a":0.034,"s":0.034},{"r":1,"c":4,"x":-1.45,"a":0.035,"s":0.035},{"r":1,"c":4,"x":-1.4,"a":0.036,"s":0.036},{"r":1,"c":4,"x":-1.35,"a":0.041,"s":0.041},{"r":1,"c":4,"x":-1.3,"a":0.058,"s":0.058},{"r":1,"c":4,"x":-1.25,"a":0.076,"s":0.076},{"r":1,"c":4,"x":-1.2,"a":0.105,"s":0.105},{"r":1,"c":4,"x":-1.15,"a":0.132,"s":0.132},{"r":1,"c":4,"x":-1.1,"a":0.145,"s":0.145},{"r":1,"c":4,"x":-1.05,"a":0.125,"s":0.125},{"r":1,"c":4,"x":-1,"a":0.073,"s":0.073},{"r":1,"c":4,"x":-0.95,"a":0.046,"s":0.046},{"r":1,"c":4,"x":-0.9,"a":0.024,"s":0.024},{"r":1,"c":4,"x":-0.85,"a":0.009,"s":0.009},{"r":1,"c":4,"x":-0.8,"a":0.003,"s":0.003},{"r":1,"c":4,"x":-0.75,"a":0,"s":0},{"r":1,"c":4,"x":0.5,"a":0},
{"r":1,"c":4,"t1":"(-10,10)","t2":"(0,5)","ns":"14374","ma":-1.15,"ms":-1.15},
{"r":1,"c":5,"x":-2,"a":0},{"r":1,"c":5,"x":-1.7,"a":0.002,"s":0.002},{"r":1,"c":5,"x":-1.65,"a":0.009,"s":0.009},{"r":1,"c":5,"x":-1.6,"a":0.046,"s":0.046},{"r":1,"c":5,"x":-1.55,"a":0.12,"s":0.12},{"r":1,"c":5,"x":-1.5,"a":0.25,"s":0.25},{"r":1,"c":5,"x":-1.45,"a":0.25,"s":0.25},{"r":1,"c":5,"x":-1.4,"a":0.115,"s":0.115},{"r":1,"c":5,"x":-1.35,"a":0.076,"s":0.076},{"r":1,"c":5,"x":-1.3,"a":0.056,"s":0.056},{"r":1,"c":5,"x":-1.25,"a":0.062,"s":0.062},{"r":1,"c":5,"x":-1.2,"a":0.058,"s":0.058},{"r":1,"c":5,"x":-1.15,"a":0.046,"s":0.046},{"r":1,"c":5,"x":-1.1,"a":0.026,"s":0.026},{"r":1,"c":5,"x":-1.05,"a":0.004,"s":0.004},{"r":1,"c":5,"x":-1,"a":0,"s":0},{"r":1,"c":5,"x":0.5,"a":0},
{"r":1,"c":5,"t1":"(10,30)","t2":"(0,5)","ns":"4788","ma":-1.4,"ms":-1.4},
{"r":1,"c":6,"x":-2,"a":0},{"r":1,"c":6,"x":-1.75,"a":0.004,"s":0.004},{"r":1,"c":6,"x":-1.7,"a":0.019,"s":0.019},{"r":1,"c":6,"x":-1.65,"a":0.085,"s":0.085},{"r":1,"c":6,"x":-1.6,"a":0.142,"s":0.142},{"r":1,"c":6,"x":-1.55,"a":0.137,"s":0.137},{"r":1,"c":6,"x":-1.5,"a":0.126,"s":0.126},{"r":1,"c":6,"x":-1.45,"a":0.095,"s":0.095},{"r":1,"c":6,"x":-1.4,"a":0.071,"s":0.071},{"r":1,"c":6,"x":-1.35,"a":0.066,"s":0.066},{"r":1,"c":6,"x":-1.3,"a":0.063,"s":0.063},{"r":1,"c":6,"x":-1.25,"a":0.036,"s":0.036},{"r":1,"c":6,"x":-1.2,"a":0.019,"s":0.019},{"r":1,"c":6,"x":-1.15,"a":0.004,"s":0.004},{"r":1,"c":6,"x":-1.1,"a":0,"s":0},{"r":1,"c":6,"x":0.5,"a":0},
{"r":1,"c":6,"t1":"(30,50)","t2":"(0,5)","ns":"484","ma":-1.4,"ms":-1.4},
{"r":2,"c":1,"x":-2,"a":0},{"r":2,"c":1,"x":-1.6,"s":0.005},{"r":2,"c":1,"x":-1.55,"s":0.027},{"r":2,"c":1,"x":-1.5,"a":0.001,"s":0.054},{"r":2,"c":1,"x":-1.45,"s":0.09},{"r":2,"c":1,"x":-1.4,"a":0.002,"s":0.162},{"r":2,"c":1,"x":-1.35,"s":0.197},{"r":2,"c":1,"x":-1.3,"a":0.002,"s":0.148},{"r":2,"c":1,"x":-1.25,"s":0.085},{"r":2,"c":1,"x":-1.2,"a":0.001,"s":0.039},{"r":2,"c":1,"x":-1.15,"s":0.015},{"r":2,"c":1,"x":-1.1,"a":0.001,"s":0.003},{"r":2,"c":1,"x":-1.05,"s":0},{"r":2,"c":1,"x":-0.8,"a":0.002,"m":0.002},{"r":2,"c":1,"x":-0.75,"a":0.003,"m":0.003},{"r":2,"c":1,"x":-0.7,"a":0.007,"m":0.007},{"r":2,"c":1,"x":-0.65,"a":0.017,"m":0.017},{"r":2,"c":1,"x":-0.6,"a":0.032,"m":0.032},{"r":2,"c":1,"x":-0.55,"a":0.054,"m":0.054},{"r":2,"c":1,"x":-0.5,"a":0.081,"m":0.081},{"r":2,"c":1,"x":-0.45,"a":0.1,"m":0.1},{"r":2,"c":1,"x":-0.4,"a":0.123,"m":0.123},{"r":2,"c":1,"x":-0.35,"a":0.14,"m":0.14},{"r":2,"c":1,"x":-0.3,"a":0.152,"m":0.152},{"r":2,"c":1,"x":-0.25,"a":0.145,"m":0.145},{"r":2,"c":1,"x":-0.2,"a":0.118,"m":0.118},{"r":2,"c":1,"x":-0.15,"a":0.093,"m":0.093},{"r":2,"c":1,"x":-0.1,"a":0.059,"m":0.059},{"r":2,"c":1,"x":-0.05,"a":0.03,"m":0.03},{"r":2,"c":1,"x":0,"a":0.015,"m":0.015},{"r":2,"c":1,"x":0.05,"a":0.01,"m":0.01},{"r":2,"c":1,"x":0.1,"a":0.007,"m":0.007},{"r":2,"c":1,"x":0.15,"a":0.005,"m":0.005},{"r":2,"c":1,"x":0.2,"a":0.003,"m":0.003},{"r":2,"c":1,"x":0.3,"a":0.002,"m":0.002},{"r":2,"c":1,"x":0.4,"a":0.001,"m":0.001},{"r":2,"c":1,"x":0.5,"a":0,"m":0},
{"r":2,"c":1,"t1":"(-70,-50)","t2":"(-5,0)","nm":"959048","ns":"9346","ma":-0.33,"mm":-0.31,"ms":-1.31},
{"r":2,"c":2,"x":-2,"a":0},{"r":2,"c":2,"x":-1.65,"s":0.02},{"r":2,"c":2,"x":-1.6,"s":0.049},{"r":2,"c":2,"x":-1.55,"s":0.054},{"r":2,"c":2,"x":-1.5,"s":0.054},{"r":2,"c":2,"x":-1.45,"s":0.069},{"r":2,"c":2,"x":-1.4,"s":0.1},{"r":2,"c":2,"x":-1.35,"s":0.138},{"r":2,"c":2,"x":-1.3,"a":0.004,"m":0.002,"s":0.182},{"r":2,"c":2,"x":-1.25,"a":0.006,"s":0.175},{"r":2,"c":2,"x":-1.2,"a":0.009,"m":0.003,"s":0.128},{"r":2,"c":2,"x":-1.15,"s":0.069},{"r":2,"c":2,"x":-1.1,"m":0.004,"s":0.025},{"r":2,"c":2,"x":-1.05,"a":0.007,"s":0.003},{"r":2,"c":2,"x":-1,"m":0.006,"s":0},{"r":2,"c":2,"x":-0.95,"a":0.01,"m":0.01},{"r":2,"c":2,"x":-0.9,"a":0.012,"m":0.012},{"r":2,"c":2,"x":-0.85,"a":0.015,"m":0.015},{"r":2,"c":2,"x":-0.8,"a":0.018,"m":0.018},{"r":2,"c":2,"x":-0.75,"a":0.02,"m":0.02},{"r":2,"c":2,"x":-0.7,"a":0.022,"m":0.022},{"r":2,"c":2,"x":-0.65,"a":0.024,"m":0.024},{"r":2,"c":2,"x":-0.6,"a":0.027,"m":0.027},{"r":2,"c":2,"x":-0.55,"a":0.031,"m":0.031},{"r":2,"c":2,"x":-0.5,"a":0.035,"m":0.035},{"r":2,"c":2,"x":-0.45,"a":0.04,"m":0.04},{"r":2,"c":2,"x":-0.4,"a":0.045,"m":0.045},{"r":2,"c":2,"x":-0.35,"a":0.059,"m":0.059},{"r":2,"c":2,"x":-0.3,"a":0.096,"m":0.096},{"r":2,"c":2,"x":-0.25,"a":0.152,"m":0.152},{"r":2,"c":2,"x":-0.2,"a":0.15,"m":0.15},{"r":2,"c":2,"x":-0.15,"a":0.123,"m":0.123},{"r":2,"c":2,"x":-0.1,"a":0.091,"m":0.091},{"r":2,"c":2,"x":-0.05,"a":0.052,"m":0.052},{"r":2,"c":2,"x":0,"a":0.02,"m":0.02},{"r":2,"c":2,"x":0.05,"a":0.01,"m":0.01},{"r":2,"c":2,"x":0.1,"a":0.007,"m":0.007},{"r":2,"c":2,"x":0.15,"a":0.004,"m":0.004},{"r":2,"c":2,"x":0.2,"a":0.003,"m":0.003},{"r":2,"c":2,"x":0.3,"a":0.001,"m":0.001},{"r":2,"c":2,"x":0.4,"a":0,"m":0},{"r":2,"c":2,"x":0.5,"a":0},
{"r":2,"c":2,"t1":"(-50,-30)","t2":"(-5,0)","nm":"612653","ns":"20734","ma":-0.34,"mm":-0.31,"ms":-1.27},
{"r":2,"c":3,"x":-2,"a":0},{"r":2,"c":3,"x":-1.65,"a":0.005,"s":0.005},{"r":2,"c":3,"x":-1.6,"a":0.012,"s":0.015},{"r":2,"c":3,"x":-1.55,"a":0.021,"s":0.022},{"r":2,"c":3,"x":-1.5,"a":0.027,"s":0.03},{"r":2,"c":3,"x":-1.45,"a":0.034,"s":0.042},{"r":2,"c":3,"x":-1.4,"a":0.045,"s":0.054},{"r":2,"c":3,"x":-1.35,"a":0.052,"s":0.069},{"r":2,"c":3,"x":-1.3,"a":0.065,"s":0.098,"m":0.003},{"r":2,"c":3,"x":-1.25,"a":0.076,"s":0.113},{"r":2,"c":3,"x":-1.2,"a":0.088,"s":0.108,"m":0.007},{"r":2,"c":3,"x":-1.15,"a":0.093,"s":0.088},{"r":2,"c":3,"x":-1.1,"a":0.092,"s":0.054,"m":0.02},{"r":2,"c":3,"x":-1.05,"a":0.079,"s":0.034},{"r":2,"c":3,"x":-1,"a":0.054,"s":0.005,"m":0.036},{"r":2,"c":3,"x":-0.95,"a":0.03,"s":0},{"r":2,"c":3,"x":-0.9,"a":0.016,"m":0.058},{"r":2,"c":3,"x":-0.85,"a":0.015},{"r":2,"c":3,"x":-0.8,"m":0.069},{"r":2,"c":3,"x":-0.7,"m":0.073},{"r":2,"c":3,"x":-0.6,"m":0.069},{"r":2,"c":3,"x":-0.5,"a":0.014,"m":0.06},{"r":2,"c":3,"x":-0.4,"a":0.012,"m":0.048},{"r":2,"c":3,"x":-0.35,"a":0.01},{"r":2,"c":3,"x":-0.3,"a":0.008,"m":0.034},{"r":2,"c":3,"x":-0.2,"a":0.006,"m":0.022},{"r":2,"c":3,"x":-0.15,"a":0.004},{"r":2,"c":3,"x":-0.1,"a":0.003,"m":0.012},{"r":2,"c":3,"x":0,"a":0.002,"m":0.005},{"r":2,"c":3,"x":0.1,"a":0.001,"m":0.002},{"r":2,"c":3,"x":0.2,"a":0,"m":0},{"r":2,"c":3,"x":0.5,"a":0},
{"r":2,"c":3,"t1":"(-30,-10)","t2":"(-5,0)","nm":"26321","ns":"112878","ma":-1.07,"mm":-0.62,"ms":-1.17},
{"r":2,"c":4,"x":-2,"a":0},{"r":2,"c":4,"x":-1.65,"a":0.007,"s":0.007},{"r":2,"c":4,"x":-1.6,"a":0.03,"s":0.03},{"r":2,"c":4,"x":-1.55,"a":0.034,"s":0.034},{"r":2,"c":4,"x":-1.5,"a":0.035,"s":0.035},{"r":2,"c":4,"x":-1.45,"a":0.037,"s":0.037},{"r":2,"c":4,"x":-1.4,"a":0.044,"s":0.044},{"r":2,"c":4,"x":-1.35,"a":0.059,"s":0.059},{"r":2,"c":4,"x":-1.3,"a":0.069,"s":0.069},{"r":2,"c":4,"x":-1.25,"a":0.074,"s":0.074},{"r":2,"c":4,"x":-1.2,"a":0.075,"s":0.075,"m":0.003},{"r":2,"c":4,"x":-1.15,"a":0.073,"s":0.073},{"r":2,"c":4,"x":-1.1,"a":0.07,"s":0.07,"m":0.01},{"r":2,"c":4,"x":-1.05,"a":0.079,"s":0.079},{"r":2,"c":4,"x":-1,"a":0.1,"s":0.1,"m":0.015},{"r":2,"c":4,"x":-0.95,"a":0.118,"s":0.118},{"r":2,"c":4,"x":-0.9,"a":0.112,"s":0.112,"m":0.02},{"r":2,"c":4,"x":-0.85,"a":0.064,"s":0.064},{"r":2,"c":4,"x":-0.8,"a":0.02,"s":0.02,"m":0.028},{"r":2,"c":4,"x":-0.75,"a":0.005,"s":0.005},{"r":2,"c":4,"x":-0.7,"a":0,"s":0,"m":0.042},{"r":2,"c":4,"x":-0.6,"m":0.054},{"r":2,"c":4,"x":-0.5,"m":0.066},{"r":2,"c":4,"x":-0.4,"m":0.072},{"r":2,"c":4,"x":-0.3,"m":0.065},{"r":2,"c":4,"x":-0.2,"m":0.052},{"r":2,"c":4,"x":-0.1,"m":0.04},{"r":2,"c":4,"x":0,"m":0.028},{"r":2,"c":4,"x":0.1,"m":0.018},{"r":2,"c":4,"x":0.2,"m":0.008},{"r":2,"c":4,"x":0.3,"m":0.002},{"r":2,"c":4,"x":0.4,"m":0},{"r":2,"c":4,"x":0.5,"a":0},
{"r":2,"c":4,"t1":"(-10,10)","t2":"(-5,0)","nm":"2063","ns":"516267","ma":-1.12,"mm":-0.37,"ms":-1.12},
{"r":2,"c":5,"x":-2,"a":0},{"r":2,"c":5,"x":-1.65,"a":0.01,"s":0.01},{"r":2,"c":5,"x":-1.6,"a":0.022,"s":0.022},{"r":2,"c":5,"x":-1.55,"a":0.032,"s":0.032},{"r":2,"c":5,"x":-1.5,"a":0.035,"s":0.035},{"r":2,"c":5,"x":-1.45,"a":0.054,"s":0.054},{"r":2,"c":5,"x":-1.4,"a":0.076,"s":0.076},{"r":2,"c":5,"x":-1.35,"a":0.103,"s":0.103},{"r":2,"c":5,"x":-1.3,"a":0.106,"s":0.106},{"r":2,"c":5,"x":-1.25,"a":0.098,"s":0.098},{"r":2,"c":5,"x":-1.2,"a":0.079,"s":0.079},{"r":2,"c":5,"x":-1.15,"a":0.069,"s":0.069},{"r":2,"c":5,"x":-1.1,"a":0.064,"s":0.064},{"r":2,"c":5,"x":-1.05,"a":0.06,"s":0.06},{"r":2,"c":5,"x":-1,"a":0.054,"s":0.054,"m":0.01},{"r":2,"c":5,"x":-0.95,"a":0.034,"s":0.034},{"r":2,"c":5,"x":-0.9,"a":0.012,"s":0.012},{"r":2,"c":5,"x":-0.85,"a":0.002,"s":0.002,"m":0.003},{"r":2,"c":5,"x":-0.8,"a":0,"s":0},{"r":2,"c":5,"x":-0.75,"m":0.005},{"r":2,"c":5,"x":-0.7,"m":0.01},{"r":2,"c":5,"x":-0.65,"m":0.012},{"r":2,"c":5,"x":-0.6,"m":0.015},{"r":2,"c":5,"x":-0.55,"m":0.03},{"r":2,"c":5,"x":-0.5,"m":0.057},{"r":2,"c":5,"x":-0.45,"m":0.035},{"r":2,"c":5,"x":-0.4,"m":0.069},{"r":2,"c":5,"x":-0.35,"m":0.12},{"r":2,"c":5,"x":-0.3,"m":0.088},{"r":2,"c":5,"x":-0.25,"m":0.079},{"r":2,"c":5,"x":-0.2,"m":0.096},{"r":2,"c":5,"x":-0.15,"m":0.076},{"r":2,"c":5,"x":-0.1,"m":0.064},{"r":2,"c":5,"x":-0.05,"m":0.049},{"r":2,"c":5,"x":0,"m":0.037},{"r":2,"c":5,"x":0.05,"m":0.022},{"r":2,"c":5,"x":0.1,"m":0.02},{"r":2,"c":5,"x":0.15,"m":0.015},{"r":2,"c":5,"x":0.2,"m":0.01},{"r":2,"c":5,"x":0.25,"m":0.005},{"r":2,"c":5,"x":0.3,"m":0},{"r":2,"c":5,"x":0.5,"a":0},
{"r":2,"c":5,"t1":"(10,30)","t2":"(-5,0)","nm":"270","ns":"53959","ma":-1.19,"mm":-0.25,"ms":-1.19},
{"r":2,"c":6,"x":-2,"a":0},{"r":2,"c":6,"x":-1.7,"a":0.01,"s":0.01},{"r":2,"c":6,"x":-1.65,"a":0.022,"s":0.022},{"r":2,"c":6,"x":-1.6,"a":0.049,"s":0.049},{"r":2,"c":6,"x":-1.55,"a":0.05,"s":0.05},{"r":2,"c":6,"x":-1.5,"a":0.057,"s":0.057},{"r":2,"c":6,"x":-1.45,"a":0.069,"s":0.069},{"r":2,"c":6,"x":-1.4,"a":0.088,"s":0.088},{"r":2,"c":6,"x":-1.35,"a":0.135,"s":0.135},{"r":2,"c":6,"x":-1.3,"a":0.177,"s":0.177},{"r":2,"c":6,"x":-1.25,"a":0.147,"s":0.147},{"r":2,"c":6,"x":-1.2,"a":0.079,"s":0.079},{"r":2,"c":6,"x":-1.15,"a":0.059,"s":0.059},{"r":2,"c":6,"x":-1.1,"a":0.02,"s":0.02},{"r":2,"c":6,"x":-1.05,"a":0.01,"s":0.01},{"r":2,"c":6,"x":-1,"a":0.003,"s":0.003},{"r":2,"c":6,"x":-0.95,"a":0.001,"s":0.001},{"r":2,"c":6,"x":-0.9,"a":0,"s":0},{"r":2,"c":6,"x":-0.4,"a":0.002,"s":0.002},{"r":2,"c":6,"x":-0.35,"a":0.004,"s":0.004},{"r":2,"c":6,"x":-0.3,"a":0.002,"s":0.002},{"r":2,"c":6,"x":-0.25,"a":0,"s":0},{"r":2,"c":6,"x":0.5,"a":0},
{"r":2,"c":6,"t1":"(30,50)","t2":"(-5,0)","ns":"695","ma":-1.26,"ms":-1.26},
{"r":3,"c":2,"x":-2,"a":0},{"r":3,"c":2,"x":-1.55,"s":0.0625},{"r":3,"c":2,"x":-1.5,"s":0.125},{"r":3,"c":2,"x":-1.43,"s":0},{"r":3,"c":2,"x":-1.27,"s":0.1875},{"r":3,"c":2,"x":-1.2,"a":0.001,"m":0.001,"s":0.25},{"r":3,"c":2,"x":-1.13,"s":0},{"r":3,"c":2,"x":-1,"a":0.003,"m":0.003},{"r":3,"c":2,"x":-0.9,"a":0.005,"m":0.005},{"r":3,"c":2,"x":-0.8,"a":0.008,"m":0.008},{"r":3,"c":2,"x":-0.7,"a":0.012,"m":0.012},{"r":3,"c":2,"x":-0.6,"a":0.016,"m":0.016},{"r":3,"c":2,"x":-0.5,"a":0.02,"m":0.02},{"r":3,"c":2,"x":-0.45,"a":0.023,"m":0.023},{"r":3,"c":2,"x":-0.4,"a":0.026,"m":0.026},{"r":3,"c":2,"x":-0.35,"a":0.032,"m":0.032},{"r":3,"c":2,"x":-0.3,"a":0.04,"m":0.04},{"r":3,"c":2,"x":-0.25,"a":0.048,"m":0.048},{"r":3,"c":2,"x":-0.2,"a":0.059,"m":0.059},{"r":3,"c":2,"x":-0.15,"a":0.086,"m":0.086},{"r":3,"c":2,"x":-0.1,"a":0.133,"m":0.133},{"r":3,"c":2,"x":-0.05,"a":0.138,"m":0.138},{"r":3,"c":2,"x":0,"a":0.138,"m":0.138},{"r":3,"c":2,"x":0.05,"a":0.114,"m":0.114},{"r":3,"c":2,"x":0.1,"a":0.074,"m":0.074},{"r":3,"c":2,"x":0.15,"a":0.04,"m":0.04},{"r":3,"c":2,"x":0.2,"a":0.015,"m":0.015},{"r":3,"c":2,"x":0.25,"a":0.008,"m":0.008},{"r":3,"c":2,"x":0.3,"a":0.005,"m":0.005},{"r":3,"c":2,"x":0.35,"a":0.002,"m":0.002},{"r":3,"c":2,"x":0.4,"a":0,"m":0},{"r":3,"c":2,"x":0.5,"a":0},
{"r":3,"c":2,"t1":"(-50,-30)","t2":"(-10,-5)","nm":"1720534","ns":"16","ma":-0.12,"mm":-0.12,"ms":-1.28},
{"r":3,"c":3,"x":-2,"a":0},{"r":3,"c":3,"x":-1.65,"s":0.015},{"r":3,"c":3,"x":-1.6,"s":0.022},{"r":3,"c":3,"x":-1.55,"s":0.03},{"r":3,"c":3,"x":-1.5,"s":0.035},{"r":3,"c":3,"x":-1.45,"s":0.04},{"r":3,"c":3,"x":-1.4,"a":0.002,"m":0.002,"s":0.044},{"r":3,"c":3,"x":-1.35,"s":0.05},{"r":3,"c":3,"x":-1.3,"s":0.057},{"r":3,"c":3,"x":-1.25,"s":0.084},{"r":3,"c":3,"x":-1.2,"a":0.004,"m":0.004,"s":0.116},{"r":3,"c":3,"x":-1.15,"s":0.16},{"r":3,"c":3,"x":-1.1,"a":0.006,"m":0.006,"s":0.133},{"r":3,"c":3,"x":-1.05,"s":0.072},{"r":3,"c":3,"x":-1,"a":0.009,"m":0.009,"s":0.032},{"r":3,"c":3,"x":-0.95,"s":0.005},{"r":3,"c":3,"x":-0.9,"a":0.013,"m":0.013,"s":0},{"r":3,"c":3,"x":-0.8,"a":0.017,"m":0.017},{"r":3,"c":3,"x":-0.7,"a":0.021,"m":0.021},{"r":3,"c":3,"x":-0.6,"a":0.025,"m":0.025},{"r":3,"c":3,"x":-0.5,"a":0.028,"m":0.028},{"r":3,"c":3,"x":-0.4,"a":0.031,"m":0.031},{"r":3,"c":3,"x":-0.3,"a":0.032,"m":0.032},{"r":3,"c":3,"x":-0.25,"a":0.031,"m":0.031},{"r":3,"c":3,"x":-0.2,"a":0.029,"m":0.029},{"r":3,"c":3,"x":-0.15,"a":0.026,"m":0.026},{"r":3,"c":3,"x":-0.1,"a":0.033,"m":0.033},{"r":3,"c":3,"x":-0.05,"a":0.044,"m":0.044},{"r":3,"c":3,"x":0,"a":0.076,"m":0.076},{"r":3,"c":3,"x":0.05,"a":0.106,"m":0.106},{"r":3,"c":3,"x":0.1,"a":0.118,"m":0.118},{"r":3,"c":3,"x":0.15,"a":0.106,"m":0.106},{"r":3,"c":3,"x":0.2,"a":0.072,"m":0.072},{"r":3,"c":3,"x":0.25,"a":0.03,"m":0.03},{"r":3,"c":3,"x":0.3,"a":0.01,"m":0.01},{"r":3,"c":3,"x":0.35,"a":0.003,"m":0.003},{"r":3,"c":3,"x":0.4,"a":0,"m":0},{"r":3,"c":3,"x":0.5,"a":0},
{"r":3,"c":3,"t1":"(-30,-10)","t2":"(-10,-5)","nm":"4559166","ns":"9975","ma":-0.14,"mm":-0.14,"ms":-1.17},
{"r":3,"c":4,"x":-2,"a":0},{"r":3,"c":4,"x":-1.65,"a":0.02},{"r":3,"c":4,"x":-1.6,"a":0.025,"s":0.032},{"r":3,"c":4,"x":-1.55,"a":0.026,"s":0.034},{"r":3,"c":4,"x":-1.5,"a":0.027,"s":0.035},{"r":3,"c":4,"x":-1.45,"a":0.03,"s":0.038},{"r":3,"c":4,"x":-1.4,"a":0.035,"s":0.042},{"r":3,"c":4,"x":-1.35,"a":0.045,"s":0.055},{"r":3,"c":4,"x":-1.3,"a":0.05,"s":0.062,"m":0.002},{"r":3,"c":4,"x":-1.25,"a":0.05,"s":0.074},{"r":3,"c":4,"x":-1.2,"a":0.045,"s":0.065,"m":0.004},{"r":3,"c":4,"x":-1.15,"a":0.04,"s":0.057},{"r":3,"c":4,"x":-1.1,"a":0.035,"s":0.045,"m":0.008},{"r":3,"c":4,"x":-1.05,"a":0.045,"s":0.037},{"r":3,"c":4,"x":-1,"a":0.067,"s":0.069,"m":0.015},{"r":3,"c":4,"x":-0.95,"a":0.084,"s":0.1},{"r":3,"c":4,"x":-0.9,"a":0.084,"s":0.11,"m":0.025},{"r":3,"c":4,"x":-0.85,"a":0.017,"s":0.01},{"r":3,"c":4,"x":-0.8,"a":0.015,"s":0,"m":0.032},{"r":3,"c":4,"x":-0.7,"m":0.037},{"r":3,"c":4,"x":-0.6,"a":0.014,"m":0.04},{"r":3,"c":4,"x":-0.5,"a":0.015,"m":0.042},{"r":3,"c":4,"x":-0.3,"m":0.04},{"r":3,"c":4,"x":-0.2,"m":0.037},{"r":3,"c":4,"x":-0.1,"m":0.04},{"r":3,"c":4,"x":0,"a":0.017,"m":0.06},{"r":3,"c":4,"x":0.05,"a":0.021,"m":0.074},{"r":3,"c":4,"x":0.1,"a":0.025},{"r":3,"c":4,"x":0.15,"a":0.02,"m":0.04},{"r":3,"c":4,"x":0.2,"a":0.007,"m":0.015},{"r":3,"c":4,"x":0.25,"a":0.003,"m":0.005},{"r":3,"c":4,"x":0.3,"a":0,"m":0},{"r":3,"c":4,"x":0.5,"a":0},
{"r":3,"c":4,"t1":"(-10,10)","t2":"(-10,-5)","nm":"348285","ns":"692664","ma":-0.87,"mm":-0.3,"ms":-1.13},
{"r":3,"c":5,"x":-2,"a":0},{"r":3,"c":5,"x":-1.65,"a":0.017,"s":0.017},{"r":3,"c":5,"x":-1.6,"a":0.025,"s":0.025},{"r":3,"c":5,"x":-1.55,"a":0.027,"s":0.027},{"r":3,"c":5,"x":-1.5,"a":0.03,"s":0.03},{"r":3,"c":5,"x":-1.45,"a":0.033,"s":0.033},{"r":3,"c":5,"x":-1.4,"a":0.037,"s":0.037},{"r":3,"c":5,"x":-1.35,"a":0.045,"s":0.045},{"r":3,"c":5,"x":-1.3,"a":0.05,"s":0.05},{"r":3,"c":5,"x":-1.25,"a":0.069,"s":0.069},{"r":3,"c":5,"x":-1.2,"a":0.1,"s":0.1},{"r":3,"c":5,"x":-1.15,"a":0.131,"s":0.131},{"r":3,"c":5,"x":-1.1,"a":0.148,"s":0.148,"m":0.005},{"r":3,"c":5,"x":-1.05,"a":0.136,"s":0.136,"m":0.01},{"r":3,"c":5,"x":-1,"a":0.081,"s":0.081,"m":0.012},{"r":3,"c":5,"x":-0.95,"a":0.01,"s":0.01},{"r":3,"c":5,"x":-0.9,"a":0.004,"s":0,"m":0.01},{"r":3,"c":5,"x":-0.85,"m":0.016},{"r":3,"c":5,"x":-0.8,"m":0.022},{"r":3,"c":5,"x":-0.75,"m":0.035},{"r":3,"c":5,"x":-0.7,"m":0.03},{"r":3,"c":5,"x":-0.65,"m":0.04},{"r":3,"c":5,"x":-0.55,"m":0.042},{"r":3,"c":5,"x":-0.5,"m":0.047},{"r":3,"c":5,"x":-0.45,"m":0.052},{"r":3,"c":5,"x":-0.4,"m":0.057},{"r":3,"c":5,"x":-0.35,"m":0.06},{"r":3,"c":5,"x":-0.3,"m":0.062},{"r":3,"c":5,"x":-0.25,"m":0.058},{"r":3,"c":5,"x":-0.2,"a":0.005,"m":0.064},{"r":3,"c":5,"x":-0.15,"m":0.068},{"r":3,"c":5,"x":-0.1,"m":0.072},{"r":3,"c":5,"x":-0.05,"m":0.06},{"r":3,"c":5,"x":0,"m":0.045},{"r":3,"c":5,"x":0.05,"m":0.035},{"r":3,"c":5,"x":0.1,"a":0.003,"m":0.015},{"r":3,"c":5,"x":0.15,"m":0.007},{"r":3,"c":5,"x":0.2,"m":0.003},{"r":3,"c":5,"x":0.25,"m":0},{"r":3,"c":5,"x":0.3,"a":0},{"r":3,"c":5,"x":0.5,"a":0},
{"r":3,"c":5,"t1":"(10,30)","t2":"(-10,-5)","nm":"886","ns":"16793","ma":-1.13,"mm":-0.28,"ms":-1.13},
{"r":4,"c":3,"x":-2,"a":0},{"r":4,"c":3,"x":-1.4,"a":0.001,"m":0.001},{"r":4,"c":3,"x":-1.2,"a":0.003,"m":0.003},{"r":4,"c":3,"x":-1.1,"a":0.004,"m":0.004},{"r":4,"c":3,"x":-1,"a":0.006,"m":0.006},{"r":4,"c":3,"x":-0.9,"a":0.009,"m":0.009},{"r":4,"c":3,"x":-0.8,"a":0.013,"m":0.013},{"r":4,"c":3,"x":-0.7,"a":0.017,"m":0.017},{"r":4,"c":3,"x":-0.6,"a":0.022,"m":0.022},{"r":4,"c":3,"x":-0.5,"a":0.027,"m":0.027},{"r":4,"c":3,"x":-0.45,"a":0.029,"m":0.029},{"r":4,"c":3,"x":-0.4,"a":0.031,"m":0.031},{"r":4,"c":3,"x":-0.35,"a":0.031,"m":0.031},{"r":4,"c":3,"x":-0.3,"a":0.03,"m":0.03},{"r":4,"c":3,"x":-0.25,"a":0.029,"m":0.029},{"r":4,"c":3,"x":-0.2,"a":0.027,"m":0.027},{"r":4,"c":3,"x":-0.15,"a":0.025,"m":0.025},{"r":4,"c":3,"x":-0.1,"a":0.024,"m":0.024},{"r":4,"c":3,"x":-0.05,"a":0.03,"m":0.03},{"r":4,"c":3,"x":0,"a":0.075,"m":0.075},{"r":4,"c":3,"x":0.05,"a":0.13,"m":0.13},{"r":4,"c":3,"x":0.1,"a":0.13,"m":0.13},{"r":4,"c":3,"x":0.15,"a":0.152,"m":0.152},{"r":4,"c":3,"x":0.2,"a":0.12,"m":0.12},{"r":4,"c":3,"x":0.25,"a":0.063,"m":0.063},{"r":4,"c":3,"x":0.3,"a":0.024,"m":0.024},{"r":4,"c":3,"x":0.35,"a":0.009,"m":0.009},{"r":4,"c":3,"x":0.4,"a":0.002,"m":0.002},{"r":4,"c":3,"x":0.45,"a":0,"m":0},{"r":4,"c":3,"x":0.5,"a":0},
{"r":4,"c":3,"t1":"(-30,-10)","t2":"(-15,-10)","nm":"575724","ma":-0.07,"mm":-0.07},
{"r":4,"c":4,"x":-2,"a":0},{"r":4,"c":4,"x":-1.65,"s":0.005},{"r":4,"c":4,"x":-1.6,"a":0.002,"s":0.019},{"r":4,"c":4,"x":-1.55,"s":0.033},{"r":4,"c":4,"x":-1.5,"a":0.004,"s":0.036},{"r":4,"c":4,"x":-1.45,"s":0.04},{"r":4,"c":4,"x":-1.4,"a":0.006,"s":0.043},{"r":4,"c":4,"x":-1.35,"s":0.058},{"r":4,"c":4,"x":-1.3,"a":0.008,"s":0.08},{"r":4,"c":4,"x":-1.25,"s":0.093},{"r":4,"c":4,"x":-1.2,"a":0.009,"s":0.083,"m":0.002},{"r":4,"c":4,"x":-1.15,"s":0.073},{"r":4,"c":4,"x":-1.1,"a":0.008,"s":0.043,"m":0.004},{"r":4,"c":4,"x":-1.05,"s":0.019},{"r":4,"c":4,"x":-1,"a":0.01,"s":0.009,"m":0.007},{"r":4,"c":4,"x":-0.95,"a":0.015,"s":0.021},{"r":4,"c":4,"x":-0.9,"a":0.019,"s":0.08,"m":0.012},{"r":4,"c":4,"x":-0.85,"a":0.021,"s":0.11},{"r":4,"c":4,"x":-0.8,"a":0.02,"s":0.038,"m":0.016},{"r":4,"c":4,"x":-0.75,"a":0.021,"s":0.005},{"r":4,"c":4,"x":-0.7,"a":0.023,"s":0,"m":0.022},{"r":4,"c":4,"x":-0.6,"a":0.025,"m":0.027},{"r":4,"c":4,"x":-0.5,"a":0.029,"m":0.031},{"r":4,"c":4,"x":-0.45,"a":0.031},{"r":4,"c":4,"x":-0.4,"a":0.034,"m":0.037},{"r":4,"c":4,"x":-0.35,"a":0.036,"m":0.039},{"r":4,"c":4,"x":-0.3,"a":0.036,"m":0.039},{"r":4,"c":4,"x":-0.25,"a":0.035,"m":0.038},{"r":4,"c":4,"x":-0.2,"a":0.031,"m":0.034},{"r":4,"c":4,"x":-0.15,"a":0.027,"m":0.029},{"r":4,"c":4,"x":-0.1,"a":0.024,"m":0.026},{"r":4,"c":4,"x":-0.05,"a":0.021,"m":0.023},{"r":4,"c":4,"x":0,"a":0.025,"m":0.027},{"r":4,"c":4,"x":0.05,"a":0.055,"m":0.06},{"r":4,"c":4,"x":0.1,"a":0.08,"m":0.087},{"r":4,"c":4,"x":0.15,"a":0.12,"m":0.13},{"r":4,"c":4,"x":0.2,"a":0.112,"m":0.122},{"r":4,"c":4,"x":0.25,"a":0.06,"m":0.065},{"r":4,"c":4,"x":0.3,"a":0.016,"m":0.017},{"r":4,"c":4,"x":0.35,"a":0.006,"m":0.006},{"r":4,"c":4,"x":0.4,"a":0.002,"m":0.002},{"r":4,"c":4,"x":0.45,"a":0,"m":0},{"r":4,"c":4,"x":0.5,"a":0},
{"r":4,"c":4,"t1":"(-10,10)","t2":"(-15,-10)","nm":"5670350","ns":"504110","ma":-0.25,"mm":-0.15,"ms":-1.13},
{"r":4,"c":5,"x":-2,"a":0},{"r":4,"c":5,"x":-1.2,"a":0.0625,"m":0.0625},{"r":4,"c":5,"x":-1.14,"a":0,"m":0},{"r":4,"c":5,"x":-0.84,"a":0.0625,"m":0.0625},{"r":4,"c":5,"x":-0.78,"a":0,"m":0},{"r":4,"c":5,"x":-0.66,"a":0.0625,"m":0.0625},{"r":4,"c":5,"x":-0.54,"a":0,"m":0},{"r":4,"c":5,"x":-0.5,"a":0.0625,"m":0.0625},{"r":4,"c":5,"x":-0.45,"a":0,"m":0},{"r":4,"c":5,"x":-0.38,"a":0.0625,"m":0.0625},{"r":4,"c":5,"x":-0.26,"a":0.125,"m":0.125},{"r":4,"c":5,"x":-0.2,"a":0.0625,"m":0.0625},{"r":4,"c":5,"x":-0.12,"a":0,"m":0},{"r":4,"c":5,"x":-0.08,"a":0.0625,"m":0.0625},{"r":4,"c":5,"x":-0.02,"a":0,"m":0},{"r":4,"c":5,"x":0.01,"a":0.125,"m":0.125},{"r":4,"c":5,"x":0.07,"a":0.1875,"m":0.1875},{"r":4,"c":5,"x":0.16,"a":0,"m":0},{"r":4,"c":5,"x":0.5,"a":0},
{"r":4,"c":5,"t1":"(10,30)","t2":"(-15,-10)","nm":"16","ma":-0.26,"mm":-0.26},
{"r":5,"c":4,"x":-2,"a":0},{"r":5,"c":4,"x":-1.65,"s":0.005},{"r":5,"c":4,"x":-1.6,"s":0.018},{"r":5,"c":4,"x":-1.55,"s":0.03},{"r":5,"c":4,"x":-1.5,"s":0.035},{"r":5,"c":4,"x":-1.45,"s":0.04},{"r":5,"c":4,"x":-1.4,"s":0.045},{"r":5,"c":4,"x":-1.35,"s":0.052},{"r":5,"c":4,"x":-1.3,"a":0.001,"m":0.001,"s":0.086},{"r":5,"c":4,"x":-1.25,"s":0.103},{"r":5,"c":4,"x":-1.2,"a":0.003,"m":0.002,"s":0.085},{"r":5,"c":4,"x":-1.15,"s":0.057},{"r":5,"c":4,"x":-1.1,"a":0.006,"m":0.004,"s":0.032},{"r":5,"c":4,"x":-1.05,"s":0.013},{"r":5,"c":4,"x":-1,"a":0.01,"m":0.007,"s":0.01},{"r":5,"c":4,"x":-0.95,"s":0.023},{"r":5,"c":4,"x":-0.9,"a":0.017,"m":0.012,"s":0.081},{"r":5,"c":4,"x":-0.85,"s":0.113},{"r":5,"c":4,"x":-0.8,"a":0.023,"m":0.018,"s":0.059},{"r":5,"c":4,"x":-0.75,"s":0.018},{"r":5,"c":4,"x":-0.7,"a":0.029,"m":0.029,"s":0},{"r":5,"c":4,"x":-0.6,"a":0.037,"m":0.037},{"r":5,"c":4,"x":-0.5,"a":0.045,"m":0.045},{"r":5,"c":4,"x":-0.45,"a":0.049,"m":0.049},{"r":5,"c":4,"x":-0.4,"a":0.052,"m":0.052},{"r":5,"c":4,"x":-0.35,"a":0.053,"m":0.053},{"r":5,"c":4,"x":-0.3,"a":0.052,"m":0.052},{"r":5,"c":4,"x":-0.25,"a":0.048,"m":0.048},{"r":5,"c":4,"x":-0.2,"a":0.042,"m":0.042},{"r":5,"c":4,"x":-0.15,"a":0.035,"m":0.035},{"r":5,"c":4,"x":-0.1,"a":0.027,"m":0.027},{"r":5,"c":4,"x":-0.05,"a":0.02,"m":0.02},{"r":5,"c":4,"x":0,"a":0.022,"m":0.022},{"r":5,"c":4,"x":0.05,"a":0.04,"m":0.04},{"r":5,"c":4,"x":0.1,"a":0.065,"m":0.065},{"r":5,"c":4,"x":0.15,"a":0.094,"m":0.094},{"r":5,"c":4,"x":0.2,"a":0.101,"m":0.101},{"r":5,"c":4,"x":0.25,"a":0.095,"m":0.095},{"r":5,"c":4,"x":0.3,"a":0.05,"m":0.05},{"r":5,"c":4,"x":0.35,"a":0.018,"m":0.018},{"r":5,"c":4,"x":0.4,"a":0.006,"m":0.006},{"r":5,"c":4,"x":0.45,"a":0,"m":0},{"r":5,"c":4,"x":0.5,"a":0},
{"r":5,"c":4,"t1":"(-10,10)","t2":"(-20,-15)","nm":"4072774","ns":"23258","ma":-0.21,"mm":-0.21,"ms":-1.14},
{"r":3,"c":1},{"r":3,"c":6},{"r":4,"c":1},{"r":4,"c":2},{"r":4,"c":6},{"r":5,"c":1},{"r":5,"c":2},{"r":5,"c":3},{"r":5,"c":5},{"r":5,"c":6}
]},
"vconcat":[
{"title":{"text":"MWsat_n1_Φ90-nograd (T = 5.00 Gyr)","anchor":"middle","fontSize":15,"fontWeight":"normal","font":"DejaVu Sans","color":"#000000","offset":8},
"data":{"name":"d1"},
"bounds":"flush",
"facet":{"row":{"field":"r","type":"ordinal","title":"Normalised counts","header":{"labels":false,"labelPadding":0,"titleFontSize":16,"titleFontWeight":"normal","titleFont":"DejaVu Sans","titleColor":"#000000","titlePadding":4.5}},
"column":{"field":"c","type":"ordinal","title":"[Fe/H]","header":{"labels":false,"labelPadding":0,"titleOrient":"bottom","titleFontSize":16,"titleFontWeight":"normal","titleFont":"DejaVu Sans","titleColor":"#000000","titlePadding":-5}}},
"spacing":0,
"spec":{"width":189.5,"height":135.6,"layer":[
{"transform":[{"filter":"isValid(datum.m)"}],"mark":{"type":"area","interpolate":"step-after","opacity":0.4,"clip":true},
"encoding":{"x":{"field":"x","type":"quantitative","scale":{"domain":[-2.125,0.625],"nice":false,"zero":false},"axis":{"values":[-2,-1,0],"format":"d","labelExpr":"replace(datum.label,'-','−')"},"title":null},
"y":{"field":"m","type":"quantitative","stack":null,"scale":{"domain":[0,0.2],"nice":false},"axis":{"values":[0.1,0.2],"format":".1f"},"title":null},
"color":{"datum":"MW","type":"nominal","scale":{"domain":["all","MW","sat"],"range":["#000000","#d62728","#1f77b4"]},
"legend":{"orient":"none","legendX":53,"legendY":576,"title":null,"labelFontSize":14.5,"labelFont":"DejaVu Sans","labelColor":"#000000","symbolSize":196,"symbolOffset":7,"rowPadding":5.5,"labelOffset":22,"padding":6,"strokeColor":"#cccccc","fillColor":"#ffffff","cornerRadius":3,
"encoding":{"symbols":{"shape":{"value":{"expr":"datum.value === 'all' ? 'M-2,0L2,0' : 'M-2,-0.72L2,-0.72L2,0.72L-2,0.72Z'"}},"fill":{"value":{"expr":"datum.value === 'MW' ? '#d62728' : datum.value === 'sat' ? '#1f77b4' : 'transparent'"}},"stroke":{"value":{"expr":"datum.value === 'all' ? '#000000' : 'transparent'"}},"strokeWidth":{"value":{"expr":"datum.value === 'all' ? 3 : 0"}},"fillOpacity":{"value":0.4},"strokeOpacity":{"value":1},"opacity":{"value":1}}}}}}},
{"transform":[{"filter":"isValid(datum.s)"}],"mark":{"type":"area","interpolate":"step-after","opacity":0.4,"clip":true},
"encoding":{"x":{"field":"x","type":"quantitative","scale":{"domain":[-2.125,0.625],"nice":false,"zero":false},"title":null},
"y":{"field":"s","type":"quantitative","stack":null,"scale":{"domain":[0,0.2],"nice":false},"title":null},
"color":{"datum":"sat","type":"nominal","scale":{"domain":["all","MW","sat"],"range":["#000000","#d62728","#1f77b4"]}}}},
{"transform":[{"filter":"isValid(datum.a)"}],"mark":{"type":"line","interpolate":"step-after","strokeWidth":2.8,"clip":true},
"encoding":{"x":{"field":"x","type":"quantitative","scale":{"domain":[-2.125,0.625],"nice":false,"zero":false},"title":null},
"y":{"field":"a","type":"quantitative","scale":{"domain":[0,0.2],"nice":false},"title":null},
"color":{"datum":"all","type":"nominal","scale":{"domain":["all","MW","sat"],"range":["#000000","#d62728","#1f77b4"]}}}},
{"transform":[{"filter":"isValid(datum.ma)"}],"mark":{"type":"rule","color":"#000000","strokeWidth":2.6},"encoding":{"x":{"field":"ma","type":"quantitative","scale":{"domain":[-2.125,0.625],"nice":false,"zero":false},"title":null}}},
{"transform":[{"filter":"isValid(datum.mm)"}],"mark":{"type":"rule","color":"#ff0000","strokeWidth":1.2},"encoding":{"x":{"field":"mm","type":"quantitative","scale":{"domain":[-2.125,0.625],"nice":false,"zero":false},"title":null}}},
{"transform":[{"filter":"isValid(datum.ms)"}],"mark":{"type":"rule","color":"#1f77b4","strokeWidth":1.2},"encoding":{"x":{"field":"ms","type":"quantitative","scale":{"domain":[-2.125,0.625],"nice":false,"zero":false},"title":null}}},
{"transform":[{"filter":"isValid(datum.t1)"}],"mark":{"type":"text","align":"right","baseline":"middle","dx":-2,"dy":10,"fontSize":8,"color":"#000000"},"encoding":{"x":{"datum":0.625,"type":"quantitative","title":null},"y":{"datum":0.2,"type":"quantitative","title":null},"text":{"field":"t1"}}},
{"transform":[{"filter":"isValid(datum.t2)"}],"mark":{"type":"text","align":"right","baseline":"middle","dx":-2,"dy":24.5,"fontSize":8,"color":"#000000"},"encoding":{"x":{"datum":0.625,"type":"quantitative","title":null},"y":{"datum":0.2,"type":"quantitative","title":null},"text":{"field":"t2"}}},
{"transform":[{"filter":"isValid(datum.nm)"}],"mark":{"type":"text","align":"right","baseline":"middle","dx":-2,"dy":37.5,"fontSize":8,"color":"#ff0000"},"encoding":{"x":{"datum":0.625,"type":"quantitative","title":null},"y":{"datum":0.2,"type":"quantitative","title":null},"text":{"field":"nm"}}},
{"transform":[{"filter":"isValid(datum.ns)"}],"mark":{"type":"text","align":"right","baseline":"middle","dx":-2,"dy":51,"fontSize":8,"color":"#1f77b4"},"encoding":{"x":{"datum":0.625,"type":"quantitative","title":null},"y":{"datum":0.2,"type":"quantitative","title":null},"text":{"field":"ns"}}}
]}},
{"title":{"text":"MWsat_n1_Φ90-grad (T = 5.00 Gyr)","anchor":"middle","fontSize":15,"fontWeight":"normal","font":"DejaVu Sans","color":"#000000","offset":8},
"data":{"name":"d2"},
"bounds":"flush",
"facet":{"row":{"field":"r","type":"ordinal","title":"Normalised counts","header":{"labels":false,"labelPadding":0,"titleFontSize":16,"titleFontWeight":"normal","titleFont":"DejaVu Sans","titleColor":"#000000","titlePadding":4.5}},
"column":{"field":"c","type":"ordinal","title":"[Fe/H]","header":{"labels":false,"labelPadding":0,"titleOrient":"bottom","titleFontSize":16,"titleFontWeight":"normal","titleFont":"DejaVu Sans","titleColor":"#000000","titlePadding":-5}}},
"spacing":0,
"spec":{"width":189.5,"height":135.6,"layer":[
{"transform":[{"filter":"isValid(datum.m)"}],"mark":{"type":"area","interpolate":"step-after","opacity":0.4,"clip":true},
"encoding":{"x":{"field":"x","type":"quantitative","scale":{"domain":[-2.125,0.625],"nice":false,"zero":false},"axis":{"values":[-2,-1,0],"format":"d","labelExpr":"replace(datum.label,'-','−')"},"title":null},
"y":{"field":"m","type":"quantitative","stack":null,"scale":{"domain":[0,0.2],"nice":false},"axis":{"values":[0.1,0.2],"format":".1f"},"title":null},
"color":{"datum":"MW","type":"nominal","scale":{"domain":["all","MW","sat"],"range":["#000000","#d62728","#1f77b4"]},
"legend":{"orient":"none","legendX":53,"legendY":576,"title":null,"labelFontSize":14.5,"labelFont":"DejaVu Sans","labelColor":"#000000","symbolSize":196,"symbolOffset":7,"rowPadding":5.5,"labelOffset":22,"padding":6,"strokeColor":"#cccccc","fillColor":"#ffffff","cornerRadius":3,
"encoding":{"symbols":{"shape":{"value":{"expr":"datum.value === 'all' ? 'M-2,0L2,0' : 'M-2,-0.72L2,-0.72L2,0.72L-2,0.72Z'"}},"fill":{"value":{"expr":"datum.value === 'MW' ? '#d62728' : datum.value === 'sat' ? '#1f77b4' : 'transparent'"}},"stroke":{"value":{"expr":"datum.value === 'all' ? '#000000' : 'transparent'"}},"strokeWidth":{"value":{"expr":"datum.value === 'all' ? 3 : 0"}},"fillOpacity":{"value":0.4},"strokeOpacity":{"value":1},"opacity":{"value":1}}}}}}},
{"transform":[{"filter":"isValid(datum.s)"}],"mark":{"type":"area","interpolate":"step-after","opacity":0.4,"clip":true},
"encoding":{"x":{"field":"x","type":"quantitative","scale":{"domain":[-2.125,0.625],"nice":false,"zero":false},"title":null},
"y":{"field":"s","type":"quantitative","stack":null,"scale":{"domain":[0,0.2],"nice":false},"title":null},
"color":{"datum":"sat","type":"nominal","scale":{"domain":["all","MW","sat"],"range":["#000000","#d62728","#1f77b4"]}}}},
{"transform":[{"filter":"isValid(datum.a)"}],"mark":{"type":"line","interpolate":"step-after","strokeWidth":2.8,"clip":true},
"encoding":{"x":{"field":"x","type":"quantitative","scale":{"domain":[-2.125,0.625],"nice":false,"zero":false},"title":null},
"y":{"field":"a","type":"quantitative","scale":{"domain":[0,0.2],"nice":false},"title":null},
"color":{"datum":"all","type":"nominal","scale":{"domain":["all","MW","sat"],"range":["#000000","#d62728","#1f77b4"]}}}},
{"transform":[{"filter":"isValid(datum.ma)"}],"mark":{"type":"rule","color":"#000000","strokeWidth":2.6},"encoding":{"x":{"field":"ma","type":"quantitative","scale":{"domain":[-2.125,0.625],"nice":false,"zero":false},"title":null}}},
{"transform":[{"filter":"isValid(datum.mm)"}],"mark":{"type":"rule","color":"#ff0000","strokeWidth":1.2},"encoding":{"x":{"field":"mm","type":"quantitative","scale":{"domain":[-2.125,0.625],"nice":false,"zero":false},"title":null}}},
{"transform":[{"filter":"isValid(datum.ms)"}],"mark":{"type":"rule","color":"#1f77b4","strokeWidth":1.2},"encoding":{"x":{"field":"ms","type":"quantitative","scale":{"domain":[-2.125,0.625],"nice":false,"zero":false},"title":null}}},
{"transform":[{"filter":"isValid(datum.t1)"}],"mark":{"type":"text","align":"right","baseline":"middle","dx":-2,"dy":10,"fontSize":8,"color":"#000000"},"encoding":{"x":{"datum":0.625,"type":"quantitative","title":null},"y":{"datum":0.2,"type":"quantitative","title":null},"text":{"field":"t1"}}},
{"transform":[{"filter":"isValid(datum.t2)"}],"mark":{"type":"text","align":"right","baseline":"middle","dx":-2,"dy":24.5,"fontSize":8,"color":"#000000"},"encoding":{"x":{"datum":0.625,"type":"quantitative","title":null},"y":{"datum":0.2,"type":"quantitative","title":null},"text":{"field":"t2"}}},
{"transform":[{"filter":"isValid(datum.nm)"}],"mark":{"type":"text","align":"right","baseline":"middle","dx":-2,"dy":37.5,"fontSize":8,"color":"#ff0000"},"encoding":{"x":{"datum":0.625,"type":"quantitative","title":null},"y":{"datum":0.2,"type":"quantitative","title":null},"text":{"field":"nm"}}},
{"transform":[{"filter":"isValid(datum.ns)"}],"mark":{"type":"text","align":"right","baseline":"middle","dx":-2,"dy":51,"fontSize":8,"color":"#1f77b4"},"encoding":{"x":{"datum":0.625,"type":"quantitative","title":null},"y":{"datum":0.2,"type":"quantitative","title":null},"text":{"field":"ns"}}}
]}}
],
"spacing":13,
"resolve":{"scale":{"color":"independent"},"legend":{"color":"independent"}}
}
